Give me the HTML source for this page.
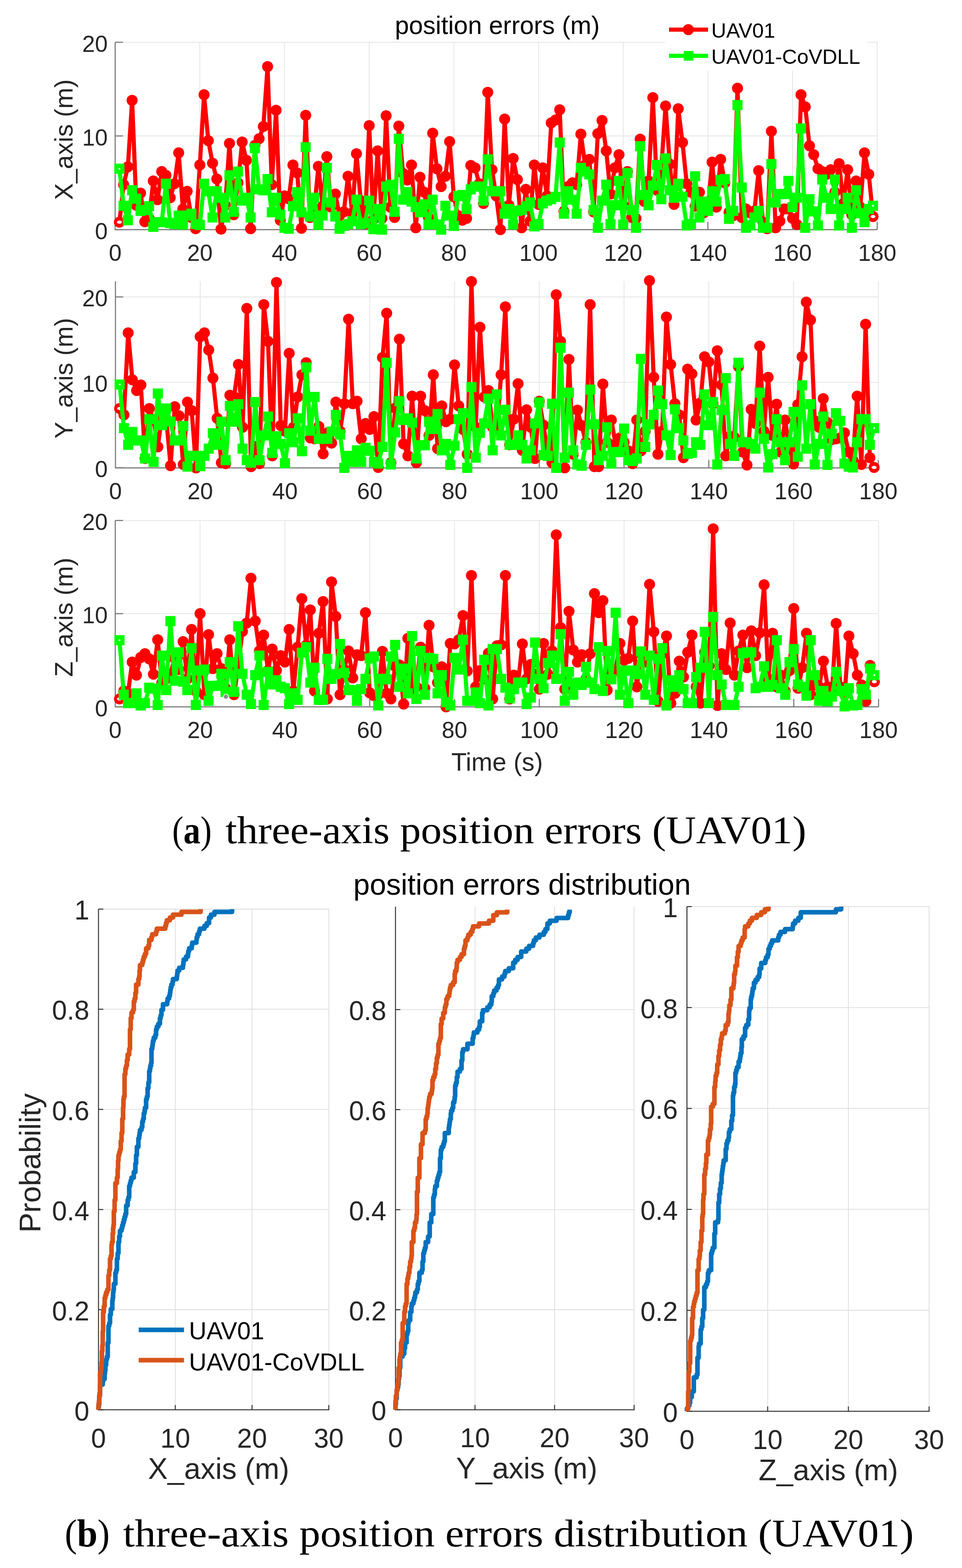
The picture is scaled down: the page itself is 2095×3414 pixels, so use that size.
<!DOCTYPE html><html><head><meta charset="utf-8"><title>position errors</title><style>html,body{margin:0;padding:0;background:#fff;}svg{display:block;}</style></head><body><svg width="2095" height="3414" viewBox="0 0 2095 3414">
<rect width="2095" height="3414" fill="#ffffff"/>
<line x1="435.2" y1="92.0" x2="435.2" y2="500.0" stroke="#e8e8e8" stroke-width="2"/>
<line x1="619.6" y1="92.0" x2="619.6" y2="500.0" stroke="#e8e8e8" stroke-width="2"/>
<line x1="804.0" y1="92.0" x2="804.0" y2="500.0" stroke="#e8e8e8" stroke-width="2"/>
<line x1="988.4" y1="92.0" x2="988.4" y2="500.0" stroke="#e8e8e8" stroke-width="2"/>
<line x1="1172.8" y1="92.0" x2="1172.8" y2="500.0" stroke="#e8e8e8" stroke-width="2"/>
<line x1="1357.2" y1="92.0" x2="1357.2" y2="500.0" stroke="#e8e8e8" stroke-width="2"/>
<line x1="1541.6" y1="92.0" x2="1541.6" y2="500.0" stroke="#e8e8e8" stroke-width="2"/>
<line x1="1726.0" y1="92.0" x2="1726.0" y2="500.0" stroke="#e8e8e8" stroke-width="2"/>
<line x1="1910.4" y1="92.0" x2="1910.4" y2="500.0" stroke="#e8e8e8" stroke-width="2"/>
<line x1="250.8" y1="296.0" x2="1910.4" y2="296.0" stroke="#e8e8e8" stroke-width="2"/>
<line x1="250.8" y1="92.0" x2="1910.4" y2="92.0" stroke="#e8e8e8" stroke-width="2"/>
<line x1="250.8" y1="92.0" x2="250.8" y2="501.0" stroke="#7a7a7a" stroke-width="2.4"/>
<line x1="249.8" y1="500.0" x2="1910.4" y2="500.0" stroke="#7a7a7a" stroke-width="2.4"/>
<line x1="250.8" y1="500.0" x2="267.8" y2="500.0" stroke="#7a7a7a" stroke-width="2.4"/>
<line x1="250.8" y1="296.0" x2="267.8" y2="296.0" stroke="#7a7a7a" stroke-width="2.4"/>
<line x1="250.8" y1="92.0" x2="267.8" y2="92.0" stroke="#7a7a7a" stroke-width="2.4"/>
<line x1="435.2" y1="500.0" x2="435.2" y2="483.0" stroke="#7a7a7a" stroke-width="2.4"/>
<line x1="619.6" y1="500.0" x2="619.6" y2="483.0" stroke="#7a7a7a" stroke-width="2.4"/>
<line x1="804.0" y1="500.0" x2="804.0" y2="483.0" stroke="#7a7a7a" stroke-width="2.4"/>
<line x1="988.4" y1="500.0" x2="988.4" y2="483.0" stroke="#7a7a7a" stroke-width="2.4"/>
<line x1="1172.8" y1="500.0" x2="1172.8" y2="483.0" stroke="#7a7a7a" stroke-width="2.4"/>
<line x1="1357.2" y1="500.0" x2="1357.2" y2="483.0" stroke="#7a7a7a" stroke-width="2.4"/>
<line x1="1541.6" y1="500.0" x2="1541.6" y2="483.0" stroke="#7a7a7a" stroke-width="2.4"/>
<line x1="1726.0" y1="500.0" x2="1726.0" y2="483.0" stroke="#7a7a7a" stroke-width="2.4"/>
<line x1="1910.4" y1="500.0" x2="1910.4" y2="483.0" stroke="#7a7a7a" stroke-width="2.4"/>
<text x="234.5" y="520.5" font-size="50" text-anchor="end" fill="#262626" font-family="'Liberation Sans', Arial, Helvetica, sans-serif" >0</text>
<text x="234.5" y="316.5" font-size="50" text-anchor="end" fill="#262626" font-family="'Liberation Sans', Arial, Helvetica, sans-serif" >10</text>
<text x="234.5" y="112.5" font-size="50" text-anchor="end" fill="#262626" font-family="'Liberation Sans', Arial, Helvetica, sans-serif" >20</text>
<text x="250.8" y="568.0" font-size="50" text-anchor="middle" fill="#262626" font-family="'Liberation Sans', Arial, Helvetica, sans-serif" >0</text>
<text x="435.2" y="568.0" font-size="50" text-anchor="middle" fill="#262626" font-family="'Liberation Sans', Arial, Helvetica, sans-serif" >20</text>
<text x="619.6" y="568.0" font-size="50" text-anchor="middle" fill="#262626" font-family="'Liberation Sans', Arial, Helvetica, sans-serif" >40</text>
<text x="804.0" y="568.0" font-size="50" text-anchor="middle" fill="#262626" font-family="'Liberation Sans', Arial, Helvetica, sans-serif" >60</text>
<text x="988.4" y="568.0" font-size="50" text-anchor="middle" fill="#262626" font-family="'Liberation Sans', Arial, Helvetica, sans-serif" >80</text>
<text x="1172.8" y="568.0" font-size="50" text-anchor="middle" fill="#262626" font-family="'Liberation Sans', Arial, Helvetica, sans-serif" >100</text>
<text x="1357.2" y="568.0" font-size="50" text-anchor="middle" fill="#262626" font-family="'Liberation Sans', Arial, Helvetica, sans-serif" >120</text>
<text x="1541.6" y="568.0" font-size="50" text-anchor="middle" fill="#262626" font-family="'Liberation Sans', Arial, Helvetica, sans-serif" >140</text>
<text x="1726.0" y="568.0" font-size="50" text-anchor="middle" fill="#262626" font-family="'Liberation Sans', Arial, Helvetica, sans-serif" >160</text>
<text x="1910.4" y="568.0" font-size="50" text-anchor="middle" fill="#262626" font-family="'Liberation Sans', Arial, Helvetica, sans-serif" >180</text>
<text transform="translate(158,304.0) rotate(-90)" x="0" y="0" font-size="55" text-anchor="middle" fill="#262626" font-family="'Liberation Sans', Arial, Helvetica, sans-serif">X_axis (m)</text>
<path d="M260.0,483.7 L269.2,402.1 L278.5,363.3 L287.7,218.5 L296.9,447.0 L306.1,420.4 L315.3,482.7 L324.6,475.5 L333.8,393.9 L343.0,434.7 L352.2,373.5 L361.4,381.7 L370.7,430.6 L379.9,400.0 L389.1,332.7 L398.3,455.1 L407.5,416.4 L416.8,473.5 L426.0,498.0 L435.2,359.2 L444.4,206.2 L453.6,306.2 L462.9,355.2 L472.1,389.8 L481.3,499.0 L490.5,447.0 L499.7,312.3 L509.0,467.4 L518.2,398.0 L527.4,309.3 L536.6,349.0 L545.8,498.0 L555.1,316.4 L564.3,302.1 L573.5,275.6 L582.7,145.0 L591.9,402.1 L601.2,239.9 L610.4,479.6 L619.6,426.6 L628.8,432.7 L638.0,359.2 L647.3,376.6 L656.5,496.9 L665.7,251.1 L674.9,473.5 L684.1,459.2 L693.4,362.3 L702.6,449.0 L711.8,340.9 L721.0,451.0 L730.2,422.5 L739.5,469.4 L748.7,461.2 L757.9,383.7 L767.1,463.3 L776.3,334.8 L785.6,436.8 L794.8,487.8 L804.0,273.6 L813.2,477.6 L822.4,328.6 L831.7,475.5 L840.9,252.1 L850.1,451.0 L859.3,473.5 L868.5,274.6 L877.8,377.6 L887.0,391.9 L896.2,359.2 L905.4,495.9 L914.6,385.8 L923.9,418.4 L933.1,473.5 L942.3,289.9 L951.5,367.4 L960.7,406.2 L970.0,383.7 L979.2,308.2 L988.4,428.6 L997.6,469.4 L1006.8,479.6 L1016.1,475.5 L1025.3,360.3 L1034.5,365.4 L1043.7,400.0 L1052.9,442.9 L1062.2,201.1 L1071.4,369.4 L1080.6,426.6 L1089.8,500.0 L1099.0,259.3 L1108.3,447.0 L1117.5,345.0 L1126.7,390.9 L1135.9,495.9 L1145.1,412.3 L1154.4,481.6 L1163.6,359.2 L1172.8,444.9 L1182.0,365.4 L1191.2,426.6 L1200.5,267.4 L1209.7,261.3 L1218.9,238.9 L1228.1,460.2 L1237.3,406.2 L1246.6,398.0 L1255.8,402.1 L1265.0,291.9 L1274.2,359.2 L1283.4,347.0 L1292.7,461.2 L1301.9,290.9 L1311.1,262.3 L1320.3,328.6 L1329.5,422.5 L1338.8,365.4 L1348.0,336.8 L1357.2,447.0 L1366.4,373.5 L1375.6,473.5 L1384.9,475.5 L1394.1,303.1 L1403.3,438.8 L1412.5,393.9 L1421.7,212.4 L1431.0,414.3 L1440.2,365.4 L1449.4,230.7 L1458.6,357.2 L1467.8,444.9 L1477.1,236.8 L1486.3,310.3 L1495.5,400.0 L1504.7,418.4 L1513.9,449.0 L1523.2,418.4 L1532.4,463.3 L1541.6,453.1 L1550.8,353.1 L1560.0,451.0 L1569.3,347.0 L1578.5,398.0 L1587.7,462.3 L1596.9,469.4 L1606.1,192.0 L1615.4,473.5 L1624.6,455.1 L1633.8,463.3 L1643.0,459.2 L1652.2,371.5 L1661.5,483.7 L1670.7,498.0 L1679.9,285.8 L1689.1,495.9 L1698.3,481.6 L1707.6,455.1 L1716.8,455.1 L1726.0,475.5 L1735.2,488.8 L1744.4,206.2 L1753.7,232.8 L1762.9,317.4 L1772.1,336.8 L1781.3,367.4 L1790.5,373.5 L1799.8,379.6 L1809.0,369.4 L1818.2,418.4 L1827.4,356.2 L1836.6,442.9 L1845.9,369.4 L1855.1,467.4 L1864.3,393.9 L1873.5,451.0 L1882.7,332.7 L1892.0,379.6 L1901.2,471.4" fill="none" stroke="#ff0000" stroke-width="9" stroke-linejoin="round" stroke-linecap="round"/>
<g fill="#ff0000"><circle cx="260.0" cy="483.7" r="12"/><circle cx="269.2" cy="402.1" r="12"/><circle cx="278.5" cy="363.3" r="12"/><circle cx="287.7" cy="218.5" r="12"/><circle cx="296.9" cy="447.0" r="12"/><circle cx="306.1" cy="420.4" r="12"/><circle cx="315.3" cy="482.7" r="12"/><circle cx="324.6" cy="475.5" r="12"/><circle cx="333.8" cy="393.9" r="12"/><circle cx="343.0" cy="434.7" r="12"/><circle cx="352.2" cy="373.5" r="12"/><circle cx="361.4" cy="381.7" r="12"/><circle cx="370.7" cy="430.6" r="12"/><circle cx="379.9" cy="400.0" r="12"/><circle cx="389.1" cy="332.7" r="12"/><circle cx="398.3" cy="455.1" r="12"/><circle cx="407.5" cy="416.4" r="12"/><circle cx="416.8" cy="473.5" r="12"/><circle cx="426.0" cy="498.0" r="12"/><circle cx="435.2" cy="359.2" r="12"/><circle cx="444.4" cy="206.2" r="12"/><circle cx="453.6" cy="306.2" r="12"/><circle cx="462.9" cy="355.2" r="12"/><circle cx="472.1" cy="389.8" r="12"/><circle cx="481.3" cy="499.0" r="12"/><circle cx="490.5" cy="447.0" r="12"/><circle cx="499.7" cy="312.3" r="12"/><circle cx="509.0" cy="467.4" r="12"/><circle cx="518.2" cy="398.0" r="12"/><circle cx="527.4" cy="309.3" r="12"/><circle cx="536.6" cy="349.0" r="12"/><circle cx="545.8" cy="498.0" r="12"/><circle cx="555.1" cy="316.4" r="12"/><circle cx="564.3" cy="302.1" r="12"/><circle cx="573.5" cy="275.6" r="12"/><circle cx="582.7" cy="145.0" r="12"/><circle cx="591.9" cy="402.1" r="12"/><circle cx="601.2" cy="239.9" r="12"/><circle cx="610.4" cy="479.6" r="12"/><circle cx="619.6" cy="426.6" r="12"/><circle cx="628.8" cy="432.7" r="12"/><circle cx="638.0" cy="359.2" r="12"/><circle cx="647.3" cy="376.6" r="12"/><circle cx="656.5" cy="496.9" r="12"/><circle cx="665.7" cy="251.1" r="12"/><circle cx="674.9" cy="473.5" r="12"/><circle cx="684.1" cy="459.2" r="12"/><circle cx="693.4" cy="362.3" r="12"/><circle cx="702.6" cy="449.0" r="12"/><circle cx="711.8" cy="340.9" r="12"/><circle cx="721.0" cy="451.0" r="12"/><circle cx="730.2" cy="422.5" r="12"/><circle cx="739.5" cy="469.4" r="12"/><circle cx="748.7" cy="461.2" r="12"/><circle cx="757.9" cy="383.7" r="12"/><circle cx="767.1" cy="463.3" r="12"/><circle cx="776.3" cy="334.8" r="12"/><circle cx="785.6" cy="436.8" r="12"/><circle cx="794.8" cy="487.8" r="12"/><circle cx="804.0" cy="273.6" r="12"/><circle cx="813.2" cy="477.6" r="12"/><circle cx="822.4" cy="328.6" r="12"/><circle cx="831.7" cy="475.5" r="12"/><circle cx="840.9" cy="252.1" r="12"/><circle cx="850.1" cy="451.0" r="12"/><circle cx="859.3" cy="473.5" r="12"/><circle cx="868.5" cy="274.6" r="12"/><circle cx="877.8" cy="377.6" r="12"/><circle cx="887.0" cy="391.9" r="12"/><circle cx="896.2" cy="359.2" r="12"/><circle cx="905.4" cy="495.9" r="12"/><circle cx="914.6" cy="385.8" r="12"/><circle cx="923.9" cy="418.4" r="12"/><circle cx="933.1" cy="473.5" r="12"/><circle cx="942.3" cy="289.9" r="12"/><circle cx="951.5" cy="367.4" r="12"/><circle cx="960.7" cy="406.2" r="12"/><circle cx="970.0" cy="383.7" r="12"/><circle cx="979.2" cy="308.2" r="12"/><circle cx="988.4" cy="428.6" r="12"/><circle cx="997.6" cy="469.4" r="12"/><circle cx="1006.8" cy="479.6" r="12"/><circle cx="1016.1" cy="475.5" r="12"/><circle cx="1025.3" cy="360.3" r="12"/><circle cx="1034.5" cy="365.4" r="12"/><circle cx="1043.7" cy="400.0" r="12"/><circle cx="1052.9" cy="442.9" r="12"/><circle cx="1062.2" cy="201.1" r="12"/><circle cx="1071.4" cy="369.4" r="12"/><circle cx="1080.6" cy="426.6" r="12"/><circle cx="1089.8" cy="500.0" r="12"/><circle cx="1099.0" cy="259.3" r="12"/><circle cx="1108.3" cy="447.0" r="12"/><circle cx="1117.5" cy="345.0" r="12"/><circle cx="1126.7" cy="390.9" r="12"/><circle cx="1135.9" cy="495.9" r="12"/><circle cx="1145.1" cy="412.3" r="12"/><circle cx="1154.4" cy="481.6" r="12"/><circle cx="1163.6" cy="359.2" r="12"/><circle cx="1172.8" cy="444.9" r="12"/><circle cx="1182.0" cy="365.4" r="12"/><circle cx="1191.2" cy="426.6" r="12"/><circle cx="1200.5" cy="267.4" r="12"/><circle cx="1209.7" cy="261.3" r="12"/><circle cx="1218.9" cy="238.9" r="12"/><circle cx="1228.1" cy="460.2" r="12"/><circle cx="1237.3" cy="406.2" r="12"/><circle cx="1246.6" cy="398.0" r="12"/><circle cx="1255.8" cy="402.1" r="12"/><circle cx="1265.0" cy="291.9" r="12"/><circle cx="1274.2" cy="359.2" r="12"/><circle cx="1283.4" cy="347.0" r="12"/><circle cx="1292.7" cy="461.2" r="12"/><circle cx="1301.9" cy="290.9" r="12"/><circle cx="1311.1" cy="262.3" r="12"/><circle cx="1320.3" cy="328.6" r="12"/><circle cx="1329.5" cy="422.5" r="12"/><circle cx="1338.8" cy="365.4" r="12"/><circle cx="1348.0" cy="336.8" r="12"/><circle cx="1357.2" cy="447.0" r="12"/><circle cx="1366.4" cy="373.5" r="12"/><circle cx="1375.6" cy="473.5" r="12"/><circle cx="1384.9" cy="475.5" r="12"/><circle cx="1394.1" cy="303.1" r="12"/><circle cx="1403.3" cy="438.8" r="12"/><circle cx="1412.5" cy="393.9" r="12"/><circle cx="1421.7" cy="212.4" r="12"/><circle cx="1431.0" cy="414.3" r="12"/><circle cx="1440.2" cy="365.4" r="12"/><circle cx="1449.4" cy="230.7" r="12"/><circle cx="1458.6" cy="357.2" r="12"/><circle cx="1467.8" cy="444.9" r="12"/><circle cx="1477.1" cy="236.8" r="12"/><circle cx="1486.3" cy="310.3" r="12"/><circle cx="1495.5" cy="400.0" r="12"/><circle cx="1504.7" cy="418.4" r="12"/><circle cx="1513.9" cy="449.0" r="12"/><circle cx="1523.2" cy="418.4" r="12"/><circle cx="1532.4" cy="463.3" r="12"/><circle cx="1541.6" cy="453.1" r="12"/><circle cx="1550.8" cy="353.1" r="12"/><circle cx="1560.0" cy="451.0" r="12"/><circle cx="1569.3" cy="347.0" r="12"/><circle cx="1578.5" cy="398.0" r="12"/><circle cx="1587.7" cy="462.3" r="12"/><circle cx="1596.9" cy="469.4" r="12"/><circle cx="1606.1" cy="192.0" r="12"/><circle cx="1615.4" cy="473.5" r="12"/><circle cx="1624.6" cy="455.1" r="12"/><circle cx="1633.8" cy="463.3" r="12"/><circle cx="1643.0" cy="459.2" r="12"/><circle cx="1652.2" cy="371.5" r="12"/><circle cx="1661.5" cy="483.7" r="12"/><circle cx="1670.7" cy="498.0" r="12"/><circle cx="1679.9" cy="285.8" r="12"/><circle cx="1689.1" cy="495.9" r="12"/><circle cx="1698.3" cy="481.6" r="12"/><circle cx="1707.6" cy="455.1" r="12"/><circle cx="1716.8" cy="455.1" r="12"/><circle cx="1726.0" cy="475.5" r="12"/><circle cx="1735.2" cy="488.8" r="12"/><circle cx="1744.4" cy="206.2" r="12"/><circle cx="1753.7" cy="232.8" r="12"/><circle cx="1762.9" cy="317.4" r="12"/><circle cx="1772.1" cy="336.8" r="12"/><circle cx="1781.3" cy="367.4" r="12"/><circle cx="1790.5" cy="373.5" r="12"/><circle cx="1799.8" cy="379.6" r="12"/><circle cx="1809.0" cy="369.4" r="12"/><circle cx="1818.2" cy="418.4" r="12"/><circle cx="1827.4" cy="356.2" r="12"/><circle cx="1836.6" cy="442.9" r="12"/><circle cx="1845.9" cy="369.4" r="12"/><circle cx="1855.1" cy="467.4" r="12"/><circle cx="1864.3" cy="393.9" r="12"/><circle cx="1873.5" cy="451.0" r="12"/><circle cx="1882.7" cy="332.7" r="12"/><circle cx="1892.0" cy="379.6" r="12"/><circle cx="1901.2" cy="471.4" r="12"/></g>
<ellipse cx="260.0" cy="483.7" rx="5.5" ry="3.5" fill="#ffffff"/>
<ellipse cx="1901.2" cy="471.4" rx="5.5" ry="3.5" fill="#ffffff"/>
<path d="M260.0,367.4 L269.2,448.0 L278.5,479.6 L287.7,414.3 L296.9,432.7 L306.1,459.2 L315.3,457.2 L324.6,449.0 L333.8,493.9 L343.0,483.7 L352.2,483.7 L361.4,400.0 L370.7,485.7 L379.9,487.8 L389.1,469.4 L398.3,488.8 L407.5,469.4 L416.8,465.3 L426.0,487.8 L435.2,489.8 L444.4,400.0 L453.6,416.4 L462.9,473.5 L472.1,416.4 L481.3,430.6 L490.5,473.5 L499.7,381.7 L509.0,461.2 L518.2,373.5 L527.4,436.8 L536.6,430.6 L545.8,473.5 L555.1,322.5 L564.3,412.3 L573.5,414.3 L582.7,389.8 L591.9,462.3 L601.2,430.6 L610.4,467.4 L619.6,495.9 L628.8,498.0 L638.0,449.0 L647.3,418.4 L656.5,462.3 L665.7,320.5 L674.9,471.4 L684.1,430.6 L693.4,489.8 L702.6,469.4 L711.8,365.4 L721.0,440.8 L730.2,471.4 L739.5,498.0 L748.7,491.8 L757.9,487.8 L767.1,481.6 L776.3,434.7 L785.6,487.8 L794.8,485.7 L804.0,436.8 L813.2,499.0 L822.4,455.1 L831.7,500.0 L840.9,406.2 L850.1,402.1 L859.3,461.2 L868.5,302.1 L877.8,434.7 L887.0,418.4 L896.2,438.8 L905.4,451.0 L914.6,462.3 L923.9,444.9 L933.1,488.8 L942.3,434.7 L951.5,488.8 L960.7,500.0 L970.0,448.0 L979.2,469.4 L988.4,491.8 L997.6,426.6 L1006.8,424.5 L1016.1,455.1 L1025.3,412.3 L1034.5,406.2 L1043.7,406.2 L1052.9,436.8 L1062.2,347.0 L1071.4,416.4 L1080.6,416.4 L1089.8,416.4 L1099.0,465.3 L1108.3,455.1 L1117.5,488.8 L1126.7,459.2 L1135.9,457.2 L1145.1,449.0 L1154.4,440.8 L1163.6,492.9 L1172.8,487.8 L1182.0,442.9 L1191.2,436.8 L1200.5,433.7 L1209.7,428.6 L1218.9,310.3 L1228.1,465.3 L1237.3,416.4 L1246.6,434.7 L1255.8,465.3 L1265.0,365.4 L1274.2,373.5 L1283.4,379.6 L1292.7,457.2 L1301.9,495.9 L1311.1,436.8 L1320.3,402.1 L1329.5,487.8 L1338.8,447.0 L1348.0,393.9 L1357.2,488.8 L1366.4,376.6 L1375.6,457.2 L1384.9,495.9 L1394.1,318.4 L1403.3,424.5 L1412.5,447.0 L1421.7,404.1 L1431.0,359.2 L1440.2,433.7 L1449.4,345.0 L1458.6,414.3 L1467.8,430.6 L1477.1,400.0 L1486.3,428.6 L1495.5,490.8 L1504.7,487.8 L1513.9,383.7 L1523.2,473.5 L1532.4,438.8 L1541.6,459.2 L1550.8,416.4 L1560.0,438.8 L1569.3,391.9 L1578.5,389.8 L1587.7,476.5 L1596.9,459.2 L1606.1,228.7 L1615.4,408.2 L1624.6,495.9 L1633.8,490.8 L1643.0,473.5 L1652.2,459.2 L1661.5,495.9 L1670.7,495.9 L1679.9,357.2 L1689.1,440.8 L1698.3,422.5 L1707.6,422.5 L1716.8,393.9 L1726.0,451.0 L1735.2,430.6 L1744.4,279.7 L1753.7,495.9 L1762.9,433.7 L1772.1,460.2 L1781.3,490.8 L1790.5,390.9 L1799.8,430.6 L1809.0,455.1 L1818.2,390.9 L1827.4,490.8 L1836.6,455.1 L1845.9,430.6 L1855.1,495.9 L1864.3,414.3 L1873.5,464.3 L1882.7,483.7 L1892.0,455.1 L1901.2,448.0" fill="none" stroke="#00ff00" stroke-width="9" stroke-linejoin="round" stroke-linecap="round"/>
<g fill="#00ff00"><rect x="249.0" y="356.4" width="22" height="22"/><rect x="258.2" y="437.0" width="22" height="22"/><rect x="267.5" y="468.6" width="22" height="22"/><rect x="276.7" y="403.3" width="22" height="22"/><rect x="285.9" y="421.7" width="22" height="22"/><rect x="295.1" y="448.2" width="22" height="22"/><rect x="304.3" y="446.2" width="22" height="22"/><rect x="313.6" y="438.0" width="22" height="22"/><rect x="322.8" y="482.9" width="22" height="22"/><rect x="332.0" y="472.7" width="22" height="22"/><rect x="341.2" y="472.7" width="22" height="22"/><rect x="350.4" y="389.0" width="22" height="22"/><rect x="359.7" y="474.7" width="22" height="22"/><rect x="368.9" y="476.8" width="22" height="22"/><rect x="378.1" y="458.4" width="22" height="22"/><rect x="387.3" y="477.8" width="22" height="22"/><rect x="396.5" y="458.4" width="22" height="22"/><rect x="405.8" y="454.3" width="22" height="22"/><rect x="415.0" y="476.8" width="22" height="22"/><rect x="424.2" y="478.8" width="22" height="22"/><rect x="433.4" y="389.0" width="22" height="22"/><rect x="442.6" y="405.4" width="22" height="22"/><rect x="451.9" y="462.5" width="22" height="22"/><rect x="461.1" y="405.4" width="22" height="22"/><rect x="470.3" y="419.6" width="22" height="22"/><rect x="479.5" y="462.5" width="22" height="22"/><rect x="488.7" y="370.7" width="22" height="22"/><rect x="498.0" y="450.2" width="22" height="22"/><rect x="507.2" y="362.5" width="22" height="22"/><rect x="516.4" y="425.8" width="22" height="22"/><rect x="525.6" y="419.6" width="22" height="22"/><rect x="534.8" y="462.5" width="22" height="22"/><rect x="544.1" y="311.5" width="22" height="22"/><rect x="553.3" y="401.3" width="22" height="22"/><rect x="562.5" y="403.3" width="22" height="22"/><rect x="571.7" y="378.8" width="22" height="22"/><rect x="580.9" y="451.3" width="22" height="22"/><rect x="590.2" y="419.6" width="22" height="22"/><rect x="599.4" y="456.4" width="22" height="22"/><rect x="608.6" y="484.9" width="22" height="22"/><rect x="617.8" y="487.0" width="22" height="22"/><rect x="627.0" y="438.0" width="22" height="22"/><rect x="636.3" y="407.4" width="22" height="22"/><rect x="645.5" y="451.3" width="22" height="22"/><rect x="654.7" y="309.5" width="22" height="22"/><rect x="663.9" y="460.4" width="22" height="22"/><rect x="673.1" y="419.6" width="22" height="22"/><rect x="682.4" y="478.8" width="22" height="22"/><rect x="691.6" y="458.4" width="22" height="22"/><rect x="700.8" y="354.4" width="22" height="22"/><rect x="710.0" y="429.8" width="22" height="22"/><rect x="719.2" y="460.4" width="22" height="22"/><rect x="728.5" y="487.0" width="22" height="22"/><rect x="737.7" y="480.8" width="22" height="22"/><rect x="746.9" y="476.8" width="22" height="22"/><rect x="756.1" y="470.6" width="22" height="22"/><rect x="765.3" y="423.7" width="22" height="22"/><rect x="774.6" y="476.8" width="22" height="22"/><rect x="783.8" y="474.7" width="22" height="22"/><rect x="793.0" y="425.8" width="22" height="22"/><rect x="802.2" y="488.0" width="22" height="22"/><rect x="811.4" y="444.1" width="22" height="22"/><rect x="820.7" y="489.0" width="22" height="22"/><rect x="829.9" y="395.2" width="22" height="22"/><rect x="839.1" y="391.1" width="22" height="22"/><rect x="848.3" y="450.2" width="22" height="22"/><rect x="857.5" y="291.1" width="22" height="22"/><rect x="866.8" y="423.7" width="22" height="22"/><rect x="876.0" y="407.4" width="22" height="22"/><rect x="885.2" y="427.8" width="22" height="22"/><rect x="894.4" y="440.0" width="22" height="22"/><rect x="903.6" y="451.3" width="22" height="22"/><rect x="912.9" y="433.9" width="22" height="22"/><rect x="922.1" y="477.8" width="22" height="22"/><rect x="931.3" y="423.7" width="22" height="22"/><rect x="940.5" y="477.8" width="22" height="22"/><rect x="949.7" y="489.0" width="22" height="22"/><rect x="959.0" y="437.0" width="22" height="22"/><rect x="968.2" y="458.4" width="22" height="22"/><rect x="977.4" y="480.8" width="22" height="22"/><rect x="986.6" y="415.6" width="22" height="22"/><rect x="995.8" y="413.5" width="22" height="22"/><rect x="1005.1" y="444.1" width="22" height="22"/><rect x="1014.3" y="401.3" width="22" height="22"/><rect x="1023.5" y="395.2" width="22" height="22"/><rect x="1032.7" y="395.2" width="22" height="22"/><rect x="1041.9" y="425.8" width="22" height="22"/><rect x="1051.2" y="336.0" width="22" height="22"/><rect x="1060.4" y="405.4" width="22" height="22"/><rect x="1069.6" y="405.4" width="22" height="22"/><rect x="1078.8" y="405.4" width="22" height="22"/><rect x="1088.0" y="454.3" width="22" height="22"/><rect x="1097.3" y="444.1" width="22" height="22"/><rect x="1106.5" y="477.8" width="22" height="22"/><rect x="1115.7" y="448.2" width="22" height="22"/><rect x="1124.9" y="446.2" width="22" height="22"/><rect x="1134.1" y="438.0" width="22" height="22"/><rect x="1143.4" y="429.8" width="22" height="22"/><rect x="1152.6" y="481.9" width="22" height="22"/><rect x="1161.8" y="476.8" width="22" height="22"/><rect x="1171.0" y="431.9" width="22" height="22"/><rect x="1180.2" y="425.8" width="22" height="22"/><rect x="1189.5" y="422.7" width="22" height="22"/><rect x="1198.7" y="417.6" width="22" height="22"/><rect x="1207.9" y="299.3" width="22" height="22"/><rect x="1217.1" y="454.3" width="22" height="22"/><rect x="1226.3" y="405.4" width="22" height="22"/><rect x="1235.6" y="423.7" width="22" height="22"/><rect x="1244.8" y="454.3" width="22" height="22"/><rect x="1254.0" y="354.4" width="22" height="22"/><rect x="1263.2" y="362.5" width="22" height="22"/><rect x="1272.4" y="368.6" width="22" height="22"/><rect x="1281.7" y="446.2" width="22" height="22"/><rect x="1290.9" y="484.9" width="22" height="22"/><rect x="1300.1" y="425.8" width="22" height="22"/><rect x="1309.3" y="391.1" width="22" height="22"/><rect x="1318.5" y="476.8" width="22" height="22"/><rect x="1327.8" y="436.0" width="22" height="22"/><rect x="1337.0" y="382.9" width="22" height="22"/><rect x="1346.2" y="477.8" width="22" height="22"/><rect x="1355.4" y="365.6" width="22" height="22"/><rect x="1364.6" y="446.2" width="22" height="22"/><rect x="1373.9" y="484.9" width="22" height="22"/><rect x="1383.1" y="307.4" width="22" height="22"/><rect x="1392.3" y="413.5" width="22" height="22"/><rect x="1401.5" y="436.0" width="22" height="22"/><rect x="1410.7" y="393.1" width="22" height="22"/><rect x="1420.0" y="348.2" width="22" height="22"/><rect x="1429.2" y="422.7" width="22" height="22"/><rect x="1438.4" y="334.0" width="22" height="22"/><rect x="1447.6" y="403.3" width="22" height="22"/><rect x="1456.8" y="419.6" width="22" height="22"/><rect x="1466.1" y="389.0" width="22" height="22"/><rect x="1475.3" y="417.6" width="22" height="22"/><rect x="1484.5" y="479.8" width="22" height="22"/><rect x="1493.7" y="476.8" width="22" height="22"/><rect x="1502.9" y="372.7" width="22" height="22"/><rect x="1512.2" y="462.5" width="22" height="22"/><rect x="1521.4" y="427.8" width="22" height="22"/><rect x="1530.6" y="448.2" width="22" height="22"/><rect x="1539.8" y="405.4" width="22" height="22"/><rect x="1549.0" y="427.8" width="22" height="22"/><rect x="1558.3" y="380.9" width="22" height="22"/><rect x="1567.5" y="378.8" width="22" height="22"/><rect x="1576.7" y="465.5" width="22" height="22"/><rect x="1585.9" y="448.2" width="22" height="22"/><rect x="1595.1" y="217.7" width="22" height="22"/><rect x="1604.4" y="397.2" width="22" height="22"/><rect x="1613.6" y="484.9" width="22" height="22"/><rect x="1622.8" y="479.8" width="22" height="22"/><rect x="1632.0" y="462.5" width="22" height="22"/><rect x="1641.2" y="448.2" width="22" height="22"/><rect x="1650.5" y="484.9" width="22" height="22"/><rect x="1659.7" y="484.9" width="22" height="22"/><rect x="1668.9" y="346.2" width="22" height="22"/><rect x="1678.1" y="429.8" width="22" height="22"/><rect x="1687.3" y="411.5" width="22" height="22"/><rect x="1696.6" y="411.5" width="22" height="22"/><rect x="1705.8" y="382.9" width="22" height="22"/><rect x="1715.0" y="440.0" width="22" height="22"/><rect x="1724.2" y="419.6" width="22" height="22"/><rect x="1733.4" y="268.7" width="22" height="22"/><rect x="1742.7" y="484.9" width="22" height="22"/><rect x="1751.9" y="422.7" width="22" height="22"/><rect x="1761.1" y="449.2" width="22" height="22"/><rect x="1770.3" y="479.8" width="22" height="22"/><rect x="1779.5" y="379.9" width="22" height="22"/><rect x="1788.8" y="419.6" width="22" height="22"/><rect x="1798.0" y="444.1" width="22" height="22"/><rect x="1807.2" y="379.9" width="22" height="22"/><rect x="1816.4" y="479.8" width="22" height="22"/><rect x="1825.6" y="444.1" width="22" height="22"/><rect x="1834.9" y="419.6" width="22" height="22"/><rect x="1844.1" y="484.9" width="22" height="22"/><rect x="1853.3" y="403.3" width="22" height="22"/><rect x="1862.5" y="453.3" width="22" height="22"/><rect x="1871.7" y="472.7" width="22" height="22"/><rect x="1881.0" y="444.1" width="22" height="22"/><rect x="1890.2" y="437.0" width="22" height="22"/></g>
<circle cx="260.0" cy="367.4" r="2" fill="#ffffff"/>
<circle cx="1901.2" cy="448.0" r="2" fill="#ffffff"/>
<line x1="436.0" y1="612.2" x2="436.0" y2="1018.7" stroke="#e8e8e8" stroke-width="2"/>
<line x1="620.6" y1="612.2" x2="620.6" y2="1018.7" stroke="#e8e8e8" stroke-width="2"/>
<line x1="805.2" y1="612.2" x2="805.2" y2="1018.7" stroke="#e8e8e8" stroke-width="2"/>
<line x1="989.8" y1="612.2" x2="989.8" y2="1018.7" stroke="#e8e8e8" stroke-width="2"/>
<line x1="1174.4" y1="612.2" x2="1174.4" y2="1018.7" stroke="#e8e8e8" stroke-width="2"/>
<line x1="1359.0" y1="612.2" x2="1359.0" y2="1018.7" stroke="#e8e8e8" stroke-width="2"/>
<line x1="1543.6" y1="612.2" x2="1543.6" y2="1018.7" stroke="#e8e8e8" stroke-width="2"/>
<line x1="1728.2" y1="612.2" x2="1728.2" y2="1018.7" stroke="#e8e8e8" stroke-width="2"/>
<line x1="1912.8" y1="612.2" x2="1912.8" y2="1018.7" stroke="#e8e8e8" stroke-width="2"/>
<line x1="251.4" y1="832.6" x2="1912.8" y2="832.6" stroke="#e8e8e8" stroke-width="2"/>
<line x1="251.4" y1="646.5" x2="1912.8" y2="646.5" stroke="#e8e8e8" stroke-width="2"/>
<line x1="251.4" y1="612.2" x2="251.4" y2="1019.7" stroke="#7a7a7a" stroke-width="2.4"/>
<line x1="250.4" y1="1018.7" x2="1912.8" y2="1018.7" stroke="#7a7a7a" stroke-width="2.4"/>
<line x1="251.4" y1="1018.7" x2="268.4" y2="1018.7" stroke="#7a7a7a" stroke-width="2.4"/>
<line x1="251.4" y1="832.6" x2="268.4" y2="832.6" stroke="#7a7a7a" stroke-width="2.4"/>
<line x1="251.4" y1="646.5" x2="268.4" y2="646.5" stroke="#7a7a7a" stroke-width="2.4"/>
<line x1="436.0" y1="1018.7" x2="436.0" y2="1001.7" stroke="#7a7a7a" stroke-width="2.4"/>
<line x1="620.6" y1="1018.7" x2="620.6" y2="1001.7" stroke="#7a7a7a" stroke-width="2.4"/>
<line x1="805.2" y1="1018.7" x2="805.2" y2="1001.7" stroke="#7a7a7a" stroke-width="2.4"/>
<line x1="989.8" y1="1018.7" x2="989.8" y2="1001.7" stroke="#7a7a7a" stroke-width="2.4"/>
<line x1="1174.4" y1="1018.7" x2="1174.4" y2="1001.7" stroke="#7a7a7a" stroke-width="2.4"/>
<line x1="1359.0" y1="1018.7" x2="1359.0" y2="1001.7" stroke="#7a7a7a" stroke-width="2.4"/>
<line x1="1543.6" y1="1018.7" x2="1543.6" y2="1001.7" stroke="#7a7a7a" stroke-width="2.4"/>
<line x1="1728.2" y1="1018.7" x2="1728.2" y2="1001.7" stroke="#7a7a7a" stroke-width="2.4"/>
<line x1="1912.8" y1="1018.7" x2="1912.8" y2="1001.7" stroke="#7a7a7a" stroke-width="2.4"/>
<text x="234.5" y="1039.2" font-size="50" text-anchor="end" fill="#262626" font-family="'Liberation Sans', Arial, Helvetica, sans-serif" >0</text>
<text x="234.5" y="853.1" font-size="50" text-anchor="end" fill="#262626" font-family="'Liberation Sans', Arial, Helvetica, sans-serif" >10</text>
<text x="234.5" y="667.0" font-size="50" text-anchor="end" fill="#262626" font-family="'Liberation Sans', Arial, Helvetica, sans-serif" >20</text>
<text x="251.4" y="1086.7" font-size="50" text-anchor="middle" fill="#262626" font-family="'Liberation Sans', Arial, Helvetica, sans-serif" >0</text>
<text x="436.0" y="1086.7" font-size="50" text-anchor="middle" fill="#262626" font-family="'Liberation Sans', Arial, Helvetica, sans-serif" >20</text>
<text x="620.6" y="1086.7" font-size="50" text-anchor="middle" fill="#262626" font-family="'Liberation Sans', Arial, Helvetica, sans-serif" >40</text>
<text x="805.2" y="1086.7" font-size="50" text-anchor="middle" fill="#262626" font-family="'Liberation Sans', Arial, Helvetica, sans-serif" >60</text>
<text x="989.8" y="1086.7" font-size="50" text-anchor="middle" fill="#262626" font-family="'Liberation Sans', Arial, Helvetica, sans-serif" >80</text>
<text x="1174.4" y="1086.7" font-size="50" text-anchor="middle" fill="#262626" font-family="'Liberation Sans', Arial, Helvetica, sans-serif" >100</text>
<text x="1359.0" y="1086.7" font-size="50" text-anchor="middle" fill="#262626" font-family="'Liberation Sans', Arial, Helvetica, sans-serif" >120</text>
<text x="1543.6" y="1086.7" font-size="50" text-anchor="middle" fill="#262626" font-family="'Liberation Sans', Arial, Helvetica, sans-serif" >140</text>
<text x="1728.2" y="1086.7" font-size="50" text-anchor="middle" fill="#262626" font-family="'Liberation Sans', Arial, Helvetica, sans-serif" >160</text>
<text x="1912.8" y="1086.7" font-size="50" text-anchor="middle" fill="#262626" font-family="'Liberation Sans', Arial, Helvetica, sans-serif" >180</text>
<text transform="translate(158,823.5) rotate(-90)" x="0" y="0" font-size="55" text-anchor="middle" fill="#262626" font-family="'Liberation Sans', Arial, Helvetica, sans-serif">Y_axis (m)</text>
<path d="M260.6,889.4 L269.9,903.3 L279.1,724.7 L288.3,827.0 L297.6,850.3 L306.8,838.2 L316.0,998.2 L325.2,889.4 L334.5,914.5 L343.7,973.1 L352.9,903.3 L362.2,912.6 L371.4,1014.0 L380.6,885.6 L389.9,905.2 L399.1,1011.3 L408.3,875.4 L417.5,894.0 L426.8,1018.7 L436.0,733.0 L445.2,724.7 L454.5,761.9 L463.7,823.3 L472.9,910.8 L482.1,1007.5 L491.4,1009.4 L500.6,860.5 L509.8,864.2 L519.1,793.5 L528.3,930.3 L537.5,671.6 L546.8,1015.9 L556.0,972.2 L565.2,1009.4 L574.5,663.2 L583.7,743.3 L592.9,992.6 L602.1,614.9 L611.4,926.6 L620.6,938.7 L629.8,769.3 L639.1,930.3 L648.3,864.2 L657.5,815.9 L666.8,789.8 L676.0,953.6 L685.2,955.4 L694.4,928.4 L703.7,988.0 L712.9,942.4 L722.1,964.7 L731.4,875.4 L740.6,938.7 L749.8,879.1 L759.1,694.9 L768.3,879.1 L777.5,873.5 L786.7,955.4 L796.0,921.9 L805.2,935.0 L814.4,907.0 L823.7,1017.8 L832.9,778.6 L842.1,681.9 L851.4,1007.5 L860.6,888.4 L869.8,738.6 L879.0,966.6 L888.3,992.6 L897.5,862.4 L906.7,1007.5 L916.0,862.4 L925.2,894.0 L934.4,948.0 L943.6,815.9 L952.9,976.8 L962.1,883.8 L971.3,918.2 L980.6,912.6 L989.8,794.4 L999.0,883.8 L1008.3,935.0 L1017.5,988.9 L1026.7,613.0 L1036.0,930.3 L1045.2,712.6 L1054.4,864.2 L1063.6,850.3 L1072.9,930.3 L1082.1,935.0 L1091.3,815.9 L1100.6,667.9 L1109.8,968.5 L1119.0,912.6 L1128.2,835.4 L1137.5,980.5 L1146.7,892.2 L1155.9,930.3 L1165.2,998.2 L1174.4,873.5 L1183.6,925.7 L1192.9,990.8 L1202.1,1007.5 L1211.3,641.8 L1220.6,743.3 L1229.8,1018.7 L1239.0,782.4 L1248.2,988.9 L1257.5,893.1 L1266.7,926.6 L1275.9,962.9 L1285.2,663.2 L1294.4,1015.9 L1303.6,1015.9 L1312.9,836.3 L1322.1,962.9 L1331.3,914.5 L1340.5,966.6 L1349.8,953.6 L1359.0,962.9 L1368.2,981.5 L1377.5,1009.4 L1386.7,914.5 L1395.9,981.5 L1405.2,938.7 L1414.4,611.1 L1423.6,821.4 L1432.8,988.9 L1442.1,938.7 L1451.3,690.2 L1460.5,793.5 L1469.8,879.1 L1479.0,903.3 L1488.2,996.4 L1497.5,803.8 L1506.7,814.0 L1515.9,914.5 L1525.1,877.3 L1534.4,776.8 L1543.6,787.9 L1552.8,879.1 L1562.1,763.7 L1571.3,838.2 L1580.5,992.6 L1589.8,949.8 L1599.0,951.7 L1608.2,798.2 L1617.4,984.3 L1626.7,1012.6 L1635.9,891.2 L1645.1,921.9 L1654.4,753.5 L1663.6,938.7 L1672.8,821.4 L1682.1,948.0 L1691.3,880.1 L1700.5,984.3 L1709.7,914.5 L1719.0,975.0 L1728.2,1010.3 L1737.4,881.0 L1746.7,776.8 L1755.9,657.7 L1765.1,696.7 L1774.4,916.3 L1783.6,930.3 L1792.8,868.0 L1802.0,920.1 L1811.3,957.3 L1820.5,955.4 L1829.7,953.6 L1839.0,942.4 L1848.2,984.3 L1857.4,1002.0 L1866.7,862.4 L1875.9,1011.3 L1885.1,706.1 L1894.3,996.4 L1903.6,1017.8" fill="none" stroke="#ff0000" stroke-width="9" stroke-linejoin="round" stroke-linecap="round"/>
<g fill="#ff0000"><circle cx="260.6" cy="889.4" r="12"/><circle cx="269.9" cy="903.3" r="12"/><circle cx="279.1" cy="724.7" r="12"/><circle cx="288.3" cy="827.0" r="12"/><circle cx="297.6" cy="850.3" r="12"/><circle cx="306.8" cy="838.2" r="12"/><circle cx="316.0" cy="998.2" r="12"/><circle cx="325.2" cy="889.4" r="12"/><circle cx="334.5" cy="914.5" r="12"/><circle cx="343.7" cy="973.1" r="12"/><circle cx="352.9" cy="903.3" r="12"/><circle cx="362.2" cy="912.6" r="12"/><circle cx="371.4" cy="1014.0" r="12"/><circle cx="380.6" cy="885.6" r="12"/><circle cx="389.9" cy="905.2" r="12"/><circle cx="399.1" cy="1011.3" r="12"/><circle cx="408.3" cy="875.4" r="12"/><circle cx="417.5" cy="894.0" r="12"/><circle cx="426.8" cy="1018.7" r="12"/><circle cx="436.0" cy="733.0" r="12"/><circle cx="445.2" cy="724.7" r="12"/><circle cx="454.5" cy="761.9" r="12"/><circle cx="463.7" cy="823.3" r="12"/><circle cx="472.9" cy="910.8" r="12"/><circle cx="482.1" cy="1007.5" r="12"/><circle cx="491.4" cy="1009.4" r="12"/><circle cx="500.6" cy="860.5" r="12"/><circle cx="509.8" cy="864.2" r="12"/><circle cx="519.1" cy="793.5" r="12"/><circle cx="528.3" cy="930.3" r="12"/><circle cx="537.5" cy="671.6" r="12"/><circle cx="546.8" cy="1015.9" r="12"/><circle cx="556.0" cy="972.2" r="12"/><circle cx="565.2" cy="1009.4" r="12"/><circle cx="574.5" cy="663.2" r="12"/><circle cx="583.7" cy="743.3" r="12"/><circle cx="592.9" cy="992.6" r="12"/><circle cx="602.1" cy="614.9" r="12"/><circle cx="611.4" cy="926.6" r="12"/><circle cx="620.6" cy="938.7" r="12"/><circle cx="629.8" cy="769.3" r="12"/><circle cx="639.1" cy="930.3" r="12"/><circle cx="648.3" cy="864.2" r="12"/><circle cx="657.5" cy="815.9" r="12"/><circle cx="666.8" cy="789.8" r="12"/><circle cx="676.0" cy="953.6" r="12"/><circle cx="685.2" cy="955.4" r="12"/><circle cx="694.4" cy="928.4" r="12"/><circle cx="703.7" cy="988.0" r="12"/><circle cx="712.9" cy="942.4" r="12"/><circle cx="722.1" cy="964.7" r="12"/><circle cx="731.4" cy="875.4" r="12"/><circle cx="740.6" cy="938.7" r="12"/><circle cx="749.8" cy="879.1" r="12"/><circle cx="759.1" cy="694.9" r="12"/><circle cx="768.3" cy="879.1" r="12"/><circle cx="777.5" cy="873.5" r="12"/><circle cx="786.7" cy="955.4" r="12"/><circle cx="796.0" cy="921.9" r="12"/><circle cx="805.2" cy="935.0" r="12"/><circle cx="814.4" cy="907.0" r="12"/><circle cx="823.7" cy="1017.8" r="12"/><circle cx="832.9" cy="778.6" r="12"/><circle cx="842.1" cy="681.9" r="12"/><circle cx="851.4" cy="1007.5" r="12"/><circle cx="860.6" cy="888.4" r="12"/><circle cx="869.8" cy="738.6" r="12"/><circle cx="879.0" cy="966.6" r="12"/><circle cx="888.3" cy="992.6" r="12"/><circle cx="897.5" cy="862.4" r="12"/><circle cx="906.7" cy="1007.5" r="12"/><circle cx="916.0" cy="862.4" r="12"/><circle cx="925.2" cy="894.0" r="12"/><circle cx="934.4" cy="948.0" r="12"/><circle cx="943.6" cy="815.9" r="12"/><circle cx="952.9" cy="976.8" r="12"/><circle cx="962.1" cy="883.8" r="12"/><circle cx="971.3" cy="918.2" r="12"/><circle cx="980.6" cy="912.6" r="12"/><circle cx="989.8" cy="794.4" r="12"/><circle cx="999.0" cy="883.8" r="12"/><circle cx="1008.3" cy="935.0" r="12"/><circle cx="1017.5" cy="988.9" r="12"/><circle cx="1026.7" cy="613.0" r="12"/><circle cx="1036.0" cy="930.3" r="12"/><circle cx="1045.2" cy="712.6" r="12"/><circle cx="1054.4" cy="864.2" r="12"/><circle cx="1063.6" cy="850.3" r="12"/><circle cx="1072.9" cy="930.3" r="12"/><circle cx="1082.1" cy="935.0" r="12"/><circle cx="1091.3" cy="815.9" r="12"/><circle cx="1100.6" cy="667.9" r="12"/><circle cx="1109.8" cy="968.5" r="12"/><circle cx="1119.0" cy="912.6" r="12"/><circle cx="1128.2" cy="835.4" r="12"/><circle cx="1137.5" cy="980.5" r="12"/><circle cx="1146.7" cy="892.2" r="12"/><circle cx="1155.9" cy="930.3" r="12"/><circle cx="1165.2" cy="998.2" r="12"/><circle cx="1174.4" cy="873.5" r="12"/><circle cx="1183.6" cy="925.7" r="12"/><circle cx="1192.9" cy="990.8" r="12"/><circle cx="1202.1" cy="1007.5" r="12"/><circle cx="1211.3" cy="641.8" r="12"/><circle cx="1220.6" cy="743.3" r="12"/><circle cx="1229.8" cy="1018.7" r="12"/><circle cx="1239.0" cy="782.4" r="12"/><circle cx="1248.2" cy="988.9" r="12"/><circle cx="1257.5" cy="893.1" r="12"/><circle cx="1266.7" cy="926.6" r="12"/><circle cx="1275.9" cy="962.9" r="12"/><circle cx="1285.2" cy="663.2" r="12"/><circle cx="1294.4" cy="1015.9" r="12"/><circle cx="1303.6" cy="1015.9" r="12"/><circle cx="1312.9" cy="836.3" r="12"/><circle cx="1322.1" cy="962.9" r="12"/><circle cx="1331.3" cy="914.5" r="12"/><circle cx="1340.5" cy="966.6" r="12"/><circle cx="1349.8" cy="953.6" r="12"/><circle cx="1359.0" cy="962.9" r="12"/><circle cx="1368.2" cy="981.5" r="12"/><circle cx="1377.5" cy="1009.4" r="12"/><circle cx="1386.7" cy="914.5" r="12"/><circle cx="1395.9" cy="981.5" r="12"/><circle cx="1405.2" cy="938.7" r="12"/><circle cx="1414.4" cy="611.1" r="12"/><circle cx="1423.6" cy="821.4" r="12"/><circle cx="1432.8" cy="988.9" r="12"/><circle cx="1442.1" cy="938.7" r="12"/><circle cx="1451.3" cy="690.2" r="12"/><circle cx="1460.5" cy="793.5" r="12"/><circle cx="1469.8" cy="879.1" r="12"/><circle cx="1479.0" cy="903.3" r="12"/><circle cx="1488.2" cy="996.4" r="12"/><circle cx="1497.5" cy="803.8" r="12"/><circle cx="1506.7" cy="814.0" r="12"/><circle cx="1515.9" cy="914.5" r="12"/><circle cx="1525.1" cy="877.3" r="12"/><circle cx="1534.4" cy="776.8" r="12"/><circle cx="1543.6" cy="787.9" r="12"/><circle cx="1552.8" cy="879.1" r="12"/><circle cx="1562.1" cy="763.7" r="12"/><circle cx="1571.3" cy="838.2" r="12"/><circle cx="1580.5" cy="992.6" r="12"/><circle cx="1589.8" cy="949.8" r="12"/><circle cx="1599.0" cy="951.7" r="12"/><circle cx="1608.2" cy="798.2" r="12"/><circle cx="1617.4" cy="984.3" r="12"/><circle cx="1626.7" cy="1012.6" r="12"/><circle cx="1635.9" cy="891.2" r="12"/><circle cx="1645.1" cy="921.9" r="12"/><circle cx="1654.4" cy="753.5" r="12"/><circle cx="1663.6" cy="938.7" r="12"/><circle cx="1672.8" cy="821.4" r="12"/><circle cx="1682.1" cy="948.0" r="12"/><circle cx="1691.3" cy="880.1" r="12"/><circle cx="1700.5" cy="984.3" r="12"/><circle cx="1709.7" cy="914.5" r="12"/><circle cx="1719.0" cy="975.0" r="12"/><circle cx="1728.2" cy="1010.3" r="12"/><circle cx="1737.4" cy="881.0" r="12"/><circle cx="1746.7" cy="776.8" r="12"/><circle cx="1755.9" cy="657.7" r="12"/><circle cx="1765.1" cy="696.7" r="12"/><circle cx="1774.4" cy="916.3" r="12"/><circle cx="1783.6" cy="930.3" r="12"/><circle cx="1792.8" cy="868.0" r="12"/><circle cx="1802.0" cy="920.1" r="12"/><circle cx="1811.3" cy="957.3" r="12"/><circle cx="1820.5" cy="955.4" r="12"/><circle cx="1829.7" cy="953.6" r="12"/><circle cx="1839.0" cy="942.4" r="12"/><circle cx="1848.2" cy="984.3" r="12"/><circle cx="1857.4" cy="1002.0" r="12"/><circle cx="1866.7" cy="862.4" r="12"/><circle cx="1875.9" cy="1011.3" r="12"/><circle cx="1885.1" cy="706.1" r="12"/><circle cx="1894.3" cy="996.4" r="12"/><circle cx="1903.6" cy="1017.8" r="12"/></g>
<ellipse cx="260.6" cy="889.4" rx="5.5" ry="3.5" fill="#ffffff"/>
<ellipse cx="1903.6" cy="1017.8" rx="5.5" ry="3.5" fill="#ffffff"/>
<path d="M260.6,837.3 L269.9,932.2 L279.1,968.5 L288.3,940.5 L297.6,959.1 L306.8,959.1 L316.0,998.2 L325.2,912.6 L334.5,1005.7 L343.7,856.8 L352.9,925.7 L362.2,889.4 L371.4,918.2 L380.6,959.1 L389.9,959.1 L399.1,927.5 L408.3,1015.9 L417.5,992.6 L426.8,992.6 L436.0,1015.0 L445.2,992.6 L454.5,976.8 L463.7,943.3 L472.9,968.5 L482.1,918.2 L491.4,1002.0 L500.6,883.8 L509.8,918.2 L519.1,880.1 L528.3,976.8 L537.5,1002.0 L546.8,1007.5 L556.0,875.4 L565.2,1002.0 L574.5,948.0 L583.7,907.0 L592.9,986.1 L602.1,949.8 L611.4,966.6 L620.6,1008.5 L629.8,943.3 L639.1,962.9 L648.3,910.8 L657.5,982.4 L666.8,800.0 L676.0,937.7 L685.2,864.2 L694.4,955.4 L703.7,955.4 L712.9,955.4 L722.1,939.6 L731.4,903.3 L740.6,946.1 L749.8,1018.7 L759.1,992.6 L768.3,1005.7 L777.5,980.5 L786.7,1005.7 L796.0,975.0 L805.2,981.5 L814.4,1005.7 L823.7,1009.4 L832.9,973.1 L842.1,789.8 L851.4,1011.3 L860.6,941.5 L869.8,873.5 L879.0,914.5 L888.3,910.8 L897.5,920.1 L906.7,998.2 L916.0,969.4 L925.2,969.4 L934.4,918.2 L943.6,934.0 L952.9,901.5 L962.1,980.5 L971.3,966.6 L980.6,1012.2 L989.8,970.3 L999.0,912.6 L1008.3,899.6 L1017.5,1018.7 L1026.7,842.8 L1036.0,996.4 L1045.2,942.4 L1054.4,921.9 L1063.6,868.0 L1072.9,980.5 L1082.1,858.7 L1091.3,948.0 L1100.6,892.2 L1109.8,968.5 L1119.0,968.5 L1128.2,948.0 L1137.5,968.5 L1146.7,998.2 L1155.9,980.5 L1165.2,921.9 L1174.4,876.3 L1183.6,990.8 L1192.9,992.6 L1202.1,879.1 L1211.3,1018.7 L1220.6,757.2 L1229.8,996.4 L1239.0,854.9 L1248.2,980.5 L1257.5,1011.3 L1266.7,1014.0 L1275.9,968.5 L1285.2,848.4 L1294.4,923.8 L1303.6,1002.0 L1312.9,992.6 L1322.1,930.3 L1331.3,1009.4 L1340.5,984.3 L1349.8,984.3 L1359.0,933.1 L1368.2,1002.0 L1377.5,1003.8 L1386.7,998.2 L1395.9,781.4 L1405.2,973.1 L1414.4,923.8 L1423.6,903.3 L1432.8,850.3 L1442.1,880.1 L1451.3,948.0 L1460.5,990.8 L1469.8,891.2 L1479.0,932.2 L1488.2,959.1 L1497.5,988.0 L1506.7,986.1 L1515.9,962.9 L1525.1,968.5 L1534.4,858.7 L1543.6,925.7 L1552.8,875.4 L1562.1,1011.3 L1571.3,893.1 L1580.5,823.3 L1589.8,966.6 L1599.0,992.6 L1608.2,789.8 L1617.4,962.9 L1626.7,962.9 L1635.9,966.6 L1645.1,976.8 L1654.4,854.9 L1663.6,955.4 L1672.8,1017.8 L1682.1,988.9 L1691.3,912.6 L1700.5,962.9 L1709.7,1002.0 L1719.0,962.9 L1728.2,896.8 L1737.4,994.5 L1746.7,839.1 L1755.9,976.8 L1765.1,880.1 L1774.4,1011.3 L1783.6,966.6 L1792.8,907.0 L1802.0,1012.2 L1811.3,944.3 L1820.5,899.6 L1829.7,916.3 L1839.0,1009.4 L1848.2,1015.9 L1857.4,1017.8 L1866.7,962.9 L1875.9,912.6 L1885.1,912.6 L1894.3,968.5 L1903.6,932.2" fill="none" stroke="#00ff00" stroke-width="9" stroke-linejoin="round" stroke-linecap="round"/>
<g fill="#00ff00"><rect x="249.6" y="826.3" width="22" height="22"/><rect x="258.9" y="921.2" width="22" height="22"/><rect x="268.1" y="957.5" width="22" height="22"/><rect x="277.3" y="929.5" width="22" height="22"/><rect x="286.6" y="948.1" width="22" height="22"/><rect x="295.8" y="948.1" width="22" height="22"/><rect x="305.0" y="987.2" width="22" height="22"/><rect x="314.2" y="901.6" width="22" height="22"/><rect x="323.5" y="994.7" width="22" height="22"/><rect x="332.7" y="845.8" width="22" height="22"/><rect x="341.9" y="914.7" width="22" height="22"/><rect x="351.2" y="878.4" width="22" height="22"/><rect x="360.4" y="907.2" width="22" height="22"/><rect x="369.6" y="948.1" width="22" height="22"/><rect x="378.9" y="948.1" width="22" height="22"/><rect x="388.1" y="916.5" width="22" height="22"/><rect x="397.3" y="1004.9" width="22" height="22"/><rect x="406.5" y="981.6" width="22" height="22"/><rect x="415.8" y="981.6" width="22" height="22"/><rect x="425.0" y="1004.0" width="22" height="22"/><rect x="434.2" y="981.6" width="22" height="22"/><rect x="443.5" y="965.8" width="22" height="22"/><rect x="452.7" y="932.3" width="22" height="22"/><rect x="461.9" y="957.5" width="22" height="22"/><rect x="471.1" y="907.2" width="22" height="22"/><rect x="480.4" y="991.0" width="22" height="22"/><rect x="489.6" y="872.8" width="22" height="22"/><rect x="498.8" y="907.2" width="22" height="22"/><rect x="508.1" y="869.1" width="22" height="22"/><rect x="517.3" y="965.8" width="22" height="22"/><rect x="526.5" y="991.0" width="22" height="22"/><rect x="535.8" y="996.5" width="22" height="22"/><rect x="545.0" y="864.4" width="22" height="22"/><rect x="554.2" y="991.0" width="22" height="22"/><rect x="563.5" y="937.0" width="22" height="22"/><rect x="572.7" y="896.0" width="22" height="22"/><rect x="581.9" y="975.1" width="22" height="22"/><rect x="591.1" y="938.8" width="22" height="22"/><rect x="600.4" y="955.6" width="22" height="22"/><rect x="609.6" y="997.5" width="22" height="22"/><rect x="618.8" y="932.3" width="22" height="22"/><rect x="628.1" y="951.9" width="22" height="22"/><rect x="637.3" y="899.8" width="22" height="22"/><rect x="646.5" y="971.4" width="22" height="22"/><rect x="655.8" y="789.0" width="22" height="22"/><rect x="665.0" y="926.7" width="22" height="22"/><rect x="674.2" y="853.2" width="22" height="22"/><rect x="683.4" y="944.4" width="22" height="22"/><rect x="692.7" y="944.4" width="22" height="22"/><rect x="701.9" y="944.4" width="22" height="22"/><rect x="711.1" y="928.6" width="22" height="22"/><rect x="720.4" y="892.3" width="22" height="22"/><rect x="729.6" y="935.1" width="22" height="22"/><rect x="738.8" y="1007.7" width="22" height="22"/><rect x="748.1" y="981.6" width="22" height="22"/><rect x="757.3" y="994.7" width="22" height="22"/><rect x="766.5" y="969.5" width="22" height="22"/><rect x="775.7" y="994.7" width="22" height="22"/><rect x="785.0" y="964.0" width="22" height="22"/><rect x="794.2" y="970.5" width="22" height="22"/><rect x="803.4" y="994.7" width="22" height="22"/><rect x="812.7" y="998.4" width="22" height="22"/><rect x="821.9" y="962.1" width="22" height="22"/><rect x="831.1" y="778.8" width="22" height="22"/><rect x="840.4" y="1000.3" width="22" height="22"/><rect x="849.6" y="930.5" width="22" height="22"/><rect x="858.8" y="862.5" width="22" height="22"/><rect x="868.0" y="903.5" width="22" height="22"/><rect x="877.3" y="899.8" width="22" height="22"/><rect x="886.5" y="909.1" width="22" height="22"/><rect x="895.7" y="987.2" width="22" height="22"/><rect x="905.0" y="958.4" width="22" height="22"/><rect x="914.2" y="958.4" width="22" height="22"/><rect x="923.4" y="907.2" width="22" height="22"/><rect x="932.6" y="923.0" width="22" height="22"/><rect x="941.9" y="890.5" width="22" height="22"/><rect x="951.1" y="969.5" width="22" height="22"/><rect x="960.3" y="955.6" width="22" height="22"/><rect x="969.6" y="1001.2" width="22" height="22"/><rect x="978.8" y="959.3" width="22" height="22"/><rect x="988.0" y="901.6" width="22" height="22"/><rect x="997.3" y="888.6" width="22" height="22"/><rect x="1006.5" y="1007.7" width="22" height="22"/><rect x="1015.7" y="831.8" width="22" height="22"/><rect x="1025.0" y="985.4" width="22" height="22"/><rect x="1034.2" y="931.4" width="22" height="22"/><rect x="1043.4" y="910.9" width="22" height="22"/><rect x="1052.6" y="857.0" width="22" height="22"/><rect x="1061.9" y="969.5" width="22" height="22"/><rect x="1071.1" y="847.7" width="22" height="22"/><rect x="1080.3" y="937.0" width="22" height="22"/><rect x="1089.6" y="881.2" width="22" height="22"/><rect x="1098.8" y="957.5" width="22" height="22"/><rect x="1108.0" y="957.5" width="22" height="22"/><rect x="1117.2" y="937.0" width="22" height="22"/><rect x="1126.5" y="957.5" width="22" height="22"/><rect x="1135.7" y="987.2" width="22" height="22"/><rect x="1144.9" y="969.5" width="22" height="22"/><rect x="1154.2" y="910.9" width="22" height="22"/><rect x="1163.4" y="865.3" width="22" height="22"/><rect x="1172.6" y="979.8" width="22" height="22"/><rect x="1181.9" y="981.6" width="22" height="22"/><rect x="1191.1" y="868.1" width="22" height="22"/><rect x="1200.3" y="1007.7" width="22" height="22"/><rect x="1209.6" y="746.2" width="22" height="22"/><rect x="1218.8" y="985.4" width="22" height="22"/><rect x="1228.0" y="843.9" width="22" height="22"/><rect x="1237.2" y="969.5" width="22" height="22"/><rect x="1246.5" y="1000.3" width="22" height="22"/><rect x="1255.7" y="1003.0" width="22" height="22"/><rect x="1264.9" y="957.5" width="22" height="22"/><rect x="1274.2" y="837.4" width="22" height="22"/><rect x="1283.4" y="912.8" width="22" height="22"/><rect x="1292.6" y="991.0" width="22" height="22"/><rect x="1301.9" y="981.6" width="22" height="22"/><rect x="1311.1" y="919.3" width="22" height="22"/><rect x="1320.3" y="998.4" width="22" height="22"/><rect x="1329.5" y="973.3" width="22" height="22"/><rect x="1338.8" y="973.3" width="22" height="22"/><rect x="1348.0" y="922.1" width="22" height="22"/><rect x="1357.2" y="991.0" width="22" height="22"/><rect x="1366.5" y="992.8" width="22" height="22"/><rect x="1375.7" y="987.2" width="22" height="22"/><rect x="1384.9" y="770.4" width="22" height="22"/><rect x="1394.2" y="962.1" width="22" height="22"/><rect x="1403.4" y="912.8" width="22" height="22"/><rect x="1412.6" y="892.3" width="22" height="22"/><rect x="1421.8" y="839.3" width="22" height="22"/><rect x="1431.1" y="869.1" width="22" height="22"/><rect x="1440.3" y="937.0" width="22" height="22"/><rect x="1449.5" y="979.8" width="22" height="22"/><rect x="1458.8" y="880.2" width="22" height="22"/><rect x="1468.0" y="921.2" width="22" height="22"/><rect x="1477.2" y="948.1" width="22" height="22"/><rect x="1486.5" y="977.0" width="22" height="22"/><rect x="1495.7" y="975.1" width="22" height="22"/><rect x="1504.9" y="951.9" width="22" height="22"/><rect x="1514.1" y="957.5" width="22" height="22"/><rect x="1523.4" y="847.7" width="22" height="22"/><rect x="1532.6" y="914.7" width="22" height="22"/><rect x="1541.8" y="864.4" width="22" height="22"/><rect x="1551.1" y="1000.3" width="22" height="22"/><rect x="1560.3" y="882.1" width="22" height="22"/><rect x="1569.5" y="812.3" width="22" height="22"/><rect x="1578.8" y="955.6" width="22" height="22"/><rect x="1588.0" y="981.6" width="22" height="22"/><rect x="1597.2" y="778.8" width="22" height="22"/><rect x="1606.4" y="951.9" width="22" height="22"/><rect x="1615.7" y="951.9" width="22" height="22"/><rect x="1624.9" y="955.6" width="22" height="22"/><rect x="1634.1" y="965.8" width="22" height="22"/><rect x="1643.4" y="843.9" width="22" height="22"/><rect x="1652.6" y="944.4" width="22" height="22"/><rect x="1661.8" y="1006.8" width="22" height="22"/><rect x="1671.1" y="977.9" width="22" height="22"/><rect x="1680.3" y="901.6" width="22" height="22"/><rect x="1689.5" y="951.9" width="22" height="22"/><rect x="1698.7" y="991.0" width="22" height="22"/><rect x="1708.0" y="951.9" width="22" height="22"/><rect x="1717.2" y="885.8" width="22" height="22"/><rect x="1726.4" y="983.5" width="22" height="22"/><rect x="1735.7" y="828.1" width="22" height="22"/><rect x="1744.9" y="965.8" width="22" height="22"/><rect x="1754.1" y="869.1" width="22" height="22"/><rect x="1763.4" y="1000.3" width="22" height="22"/><rect x="1772.6" y="955.6" width="22" height="22"/><rect x="1781.8" y="896.0" width="22" height="22"/><rect x="1791.0" y="1001.2" width="22" height="22"/><rect x="1800.3" y="933.3" width="22" height="22"/><rect x="1809.5" y="888.6" width="22" height="22"/><rect x="1818.7" y="905.3" width="22" height="22"/><rect x="1828.0" y="998.4" width="22" height="22"/><rect x="1837.2" y="1004.9" width="22" height="22"/><rect x="1846.4" y="1006.8" width="22" height="22"/><rect x="1855.7" y="951.9" width="22" height="22"/><rect x="1864.9" y="901.6" width="22" height="22"/><rect x="1874.1" y="901.6" width="22" height="22"/><rect x="1883.3" y="957.5" width="22" height="22"/><rect x="1892.6" y="921.2" width="22" height="22"/></g>
<circle cx="260.6" cy="837.3" r="2" fill="#ffffff"/>
<circle cx="1903.6" cy="932.2" r="2" fill="#ffffff"/>
<line x1="435.7" y1="1133.0" x2="435.7" y2="1539.0" stroke="#e8e8e8" stroke-width="2"/>
<line x1="620.4" y1="1133.0" x2="620.4" y2="1539.0" stroke="#e8e8e8" stroke-width="2"/>
<line x1="805.1" y1="1133.0" x2="805.1" y2="1539.0" stroke="#e8e8e8" stroke-width="2"/>
<line x1="989.8" y1="1133.0" x2="989.8" y2="1539.0" stroke="#e8e8e8" stroke-width="2"/>
<line x1="1174.5" y1="1133.0" x2="1174.5" y2="1539.0" stroke="#e8e8e8" stroke-width="2"/>
<line x1="1359.2" y1="1133.0" x2="1359.2" y2="1539.0" stroke="#e8e8e8" stroke-width="2"/>
<line x1="1543.9" y1="1133.0" x2="1543.9" y2="1539.0" stroke="#e8e8e8" stroke-width="2"/>
<line x1="1728.6" y1="1133.0" x2="1728.6" y2="1539.0" stroke="#e8e8e8" stroke-width="2"/>
<line x1="1913.3" y1="1133.0" x2="1913.3" y2="1539.0" stroke="#e8e8e8" stroke-width="2"/>
<line x1="251.0" y1="1336.1" x2="1913.3" y2="1336.1" stroke="#e8e8e8" stroke-width="2"/>
<line x1="251.0" y1="1133.2" x2="1913.3" y2="1133.2" stroke="#e8e8e8" stroke-width="2"/>
<line x1="251.0" y1="1133.0" x2="251.0" y2="1540.0" stroke="#7a7a7a" stroke-width="2.4"/>
<line x1="250.0" y1="1539.0" x2="1913.3" y2="1539.0" stroke="#7a7a7a" stroke-width="2.4"/>
<line x1="251.0" y1="1539.0" x2="268.0" y2="1539.0" stroke="#7a7a7a" stroke-width="2.4"/>
<line x1="251.0" y1="1336.1" x2="268.0" y2="1336.1" stroke="#7a7a7a" stroke-width="2.4"/>
<line x1="251.0" y1="1133.2" x2="268.0" y2="1133.2" stroke="#7a7a7a" stroke-width="2.4"/>
<line x1="435.7" y1="1539.0" x2="435.7" y2="1522.0" stroke="#7a7a7a" stroke-width="2.4"/>
<line x1="620.4" y1="1539.0" x2="620.4" y2="1522.0" stroke="#7a7a7a" stroke-width="2.4"/>
<line x1="805.1" y1="1539.0" x2="805.1" y2="1522.0" stroke="#7a7a7a" stroke-width="2.4"/>
<line x1="989.8" y1="1539.0" x2="989.8" y2="1522.0" stroke="#7a7a7a" stroke-width="2.4"/>
<line x1="1174.5" y1="1539.0" x2="1174.5" y2="1522.0" stroke="#7a7a7a" stroke-width="2.4"/>
<line x1="1359.2" y1="1539.0" x2="1359.2" y2="1522.0" stroke="#7a7a7a" stroke-width="2.4"/>
<line x1="1543.9" y1="1539.0" x2="1543.9" y2="1522.0" stroke="#7a7a7a" stroke-width="2.4"/>
<line x1="1728.6" y1="1539.0" x2="1728.6" y2="1522.0" stroke="#7a7a7a" stroke-width="2.4"/>
<line x1="1913.3" y1="1539.0" x2="1913.3" y2="1522.0" stroke="#7a7a7a" stroke-width="2.4"/>
<text x="234.5" y="1559.5" font-size="50" text-anchor="end" fill="#262626" font-family="'Liberation Sans', Arial, Helvetica, sans-serif" >0</text>
<text x="234.5" y="1356.6" font-size="50" text-anchor="end" fill="#262626" font-family="'Liberation Sans', Arial, Helvetica, sans-serif" >10</text>
<text x="234.5" y="1153.7" font-size="50" text-anchor="end" fill="#262626" font-family="'Liberation Sans', Arial, Helvetica, sans-serif" >20</text>
<text x="251.0" y="1607.0" font-size="50" text-anchor="middle" fill="#262626" font-family="'Liberation Sans', Arial, Helvetica, sans-serif" >0</text>
<text x="435.7" y="1607.0" font-size="50" text-anchor="middle" fill="#262626" font-family="'Liberation Sans', Arial, Helvetica, sans-serif" >20</text>
<text x="620.4" y="1607.0" font-size="50" text-anchor="middle" fill="#262626" font-family="'Liberation Sans', Arial, Helvetica, sans-serif" >40</text>
<text x="805.1" y="1607.0" font-size="50" text-anchor="middle" fill="#262626" font-family="'Liberation Sans', Arial, Helvetica, sans-serif" >60</text>
<text x="989.8" y="1607.0" font-size="50" text-anchor="middle" fill="#262626" font-family="'Liberation Sans', Arial, Helvetica, sans-serif" >80</text>
<text x="1174.5" y="1607.0" font-size="50" text-anchor="middle" fill="#262626" font-family="'Liberation Sans', Arial, Helvetica, sans-serif" >100</text>
<text x="1359.2" y="1607.0" font-size="50" text-anchor="middle" fill="#262626" font-family="'Liberation Sans', Arial, Helvetica, sans-serif" >120</text>
<text x="1543.9" y="1607.0" font-size="50" text-anchor="middle" fill="#262626" font-family="'Liberation Sans', Arial, Helvetica, sans-serif" >140</text>
<text x="1728.6" y="1607.0" font-size="50" text-anchor="middle" fill="#262626" font-family="'Liberation Sans', Arial, Helvetica, sans-serif" >160</text>
<text x="1913.3" y="1607.0" font-size="50" text-anchor="middle" fill="#262626" font-family="'Liberation Sans', Arial, Helvetica, sans-serif" >180</text>
<text transform="translate(158,1344.0) rotate(-90)" x="0" y="0" font-size="55" text-anchor="middle" fill="#262626" font-family="'Liberation Sans', Arial, Helvetica, sans-serif">Z_axis (m)</text>
<path d="M260.2,1521.8 L269.5,1504.5 L278.7,1509.6 L287.9,1441.6 L297.2,1470.0 L306.4,1431.5 L315.6,1423.3 L324.9,1434.5 L334.1,1468.0 L343.4,1392.9 L352.6,1486.2 L361.8,1478.1 L371.1,1468.0 L380.3,1433.5 L389.5,1457.8 L398.8,1397.0 L408.0,1478.1 L417.2,1370.6 L426.5,1504.5 L435.7,1336.1 L444.9,1512.6 L454.2,1381.8 L463.4,1455.8 L472.6,1423.3 L481.9,1455.8 L491.1,1498.4 L500.3,1392.9 L509.6,1512.6 L518.8,1451.8 L528.0,1374.7 L537.3,1356.4 L546.5,1259.0 L555.8,1352.3 L565.0,1417.3 L574.2,1382.8 L583.5,1459.9 L592.7,1413.2 L601.9,1459.9 L611.2,1427.4 L620.4,1441.6 L629.6,1370.6 L638.9,1504.5 L648.1,1409.1 L657.3,1303.6 L666.6,1405.1 L675.8,1328.0 L685.0,1504.5 L694.3,1378.7 L703.5,1309.7 L712.8,1521.8 L722.0,1267.1 L731.2,1342.2 L740.5,1512.6 L749.7,1457.8 L758.9,1417.3 L768.2,1476.1 L777.4,1425.4 L786.6,1427.4 L795.9,1334.1 L805.1,1508.6 L814.3,1514.7 L823.6,1512.6 L832.8,1418.3 L842.0,1509.6 L851.3,1521.8 L860.5,1450.7 L869.7,1447.7 L879.0,1532.9 L888.2,1389.9 L897.4,1500.4 L906.7,1495.4 L915.9,1409.1 L925.2,1498.4 L934.4,1361.5 L943.6,1451.8 L952.9,1486.2 L962.1,1451.8 L971.3,1539.0 L980.6,1401.0 L989.8,1402.0 L999.0,1392.9 L1008.3,1340.2 L1017.5,1460.9 L1026.7,1252.9 L1036.0,1495.4 L1045.2,1459.9 L1054.4,1478.1 L1063.7,1422.3 L1072.9,1521.8 L1082.2,1406.1 L1091.4,1404.1 L1100.6,1252.9 L1109.9,1521.8 L1119.1,1470.0 L1128.3,1486.2 L1137.6,1402.0 L1146.8,1478.1 L1156.0,1446.7 L1165.3,1468.0 L1174.5,1500.4 L1183.7,1401.0 L1193.0,1468.0 L1202.2,1417.3 L1211.4,1164.6 L1220.7,1366.5 L1229.9,1500.4 L1239.1,1331.0 L1248.4,1415.2 L1257.6,1441.6 L1266.8,1425.4 L1276.1,1478.1 L1285.3,1423.3 L1294.6,1292.5 L1303.8,1334.1 L1313.0,1307.7 L1322.3,1502.5 L1331.5,1459.9 L1340.7,1459.9 L1350.0,1401.0 L1359.2,1437.5 L1368.4,1433.5 L1377.7,1352.3 L1386.9,1495.4 L1396.1,1423.3 L1405.4,1441.6 L1414.6,1272.2 L1423.8,1375.7 L1433.1,1526.8 L1442.3,1423.3 L1451.5,1384.8 L1460.8,1530.9 L1470.0,1509.6 L1479.3,1439.6 L1488.5,1474.1 L1497.7,1420.3 L1507.0,1382.8 L1516.2,1495.4 L1525.4,1530.9 L1534.7,1420.3 L1543.9,1449.7 L1553.1,1151.5 L1562.4,1536.0 L1571.6,1423.3 L1580.8,1457.8 L1590.1,1356.4 L1599.3,1470.0 L1608.5,1417.3 L1617.8,1382.8 L1627.0,1453.8 L1636.2,1373.6 L1645.5,1427.4 L1654.7,1377.7 L1664.0,1273.2 L1673.2,1478.1 L1682.4,1378.7 L1691.7,1495.4 L1700.9,1470.0 L1710.1,1504.5 L1719.4,1459.9 L1728.6,1324.9 L1737.8,1498.4 L1747.1,1453.8 L1756.3,1378.7 L1765.5,1512.6 L1774.8,1488.3 L1784.0,1495.4 L1793.2,1439.6 L1802.5,1495.4 L1811.7,1509.6 L1820.9,1357.4 L1830.2,1495.4 L1839.4,1512.6 L1848.7,1384.8 L1857.9,1423.3 L1867.1,1470.0 L1876.4,1491.3 L1885.6,1526.8 L1894.8,1448.7 L1904.1,1484.2" fill="none" stroke="#ff0000" stroke-width="9" stroke-linejoin="round" stroke-linecap="round"/>
<g fill="#ff0000"><circle cx="260.2" cy="1521.8" r="12"/><circle cx="269.5" cy="1504.5" r="12"/><circle cx="278.7" cy="1509.6" r="12"/><circle cx="287.9" cy="1441.6" r="12"/><circle cx="297.2" cy="1470.0" r="12"/><circle cx="306.4" cy="1431.5" r="12"/><circle cx="315.6" cy="1423.3" r="12"/><circle cx="324.9" cy="1434.5" r="12"/><circle cx="334.1" cy="1468.0" r="12"/><circle cx="343.4" cy="1392.9" r="12"/><circle cx="352.6" cy="1486.2" r="12"/><circle cx="361.8" cy="1478.1" r="12"/><circle cx="371.1" cy="1468.0" r="12"/><circle cx="380.3" cy="1433.5" r="12"/><circle cx="389.5" cy="1457.8" r="12"/><circle cx="398.8" cy="1397.0" r="12"/><circle cx="408.0" cy="1478.1" r="12"/><circle cx="417.2" cy="1370.6" r="12"/><circle cx="426.5" cy="1504.5" r="12"/><circle cx="435.7" cy="1336.1" r="12"/><circle cx="444.9" cy="1512.6" r="12"/><circle cx="454.2" cy="1381.8" r="12"/><circle cx="463.4" cy="1455.8" r="12"/><circle cx="472.6" cy="1423.3" r="12"/><circle cx="481.9" cy="1455.8" r="12"/><circle cx="491.1" cy="1498.4" r="12"/><circle cx="500.3" cy="1392.9" r="12"/><circle cx="509.6" cy="1512.6" r="12"/><circle cx="518.8" cy="1451.8" r="12"/><circle cx="528.0" cy="1374.7" r="12"/><circle cx="537.3" cy="1356.4" r="12"/><circle cx="546.5" cy="1259.0" r="12"/><circle cx="555.8" cy="1352.3" r="12"/><circle cx="565.0" cy="1417.3" r="12"/><circle cx="574.2" cy="1382.8" r="12"/><circle cx="583.5" cy="1459.9" r="12"/><circle cx="592.7" cy="1413.2" r="12"/><circle cx="601.9" cy="1459.9" r="12"/><circle cx="611.2" cy="1427.4" r="12"/><circle cx="620.4" cy="1441.6" r="12"/><circle cx="629.6" cy="1370.6" r="12"/><circle cx="638.9" cy="1504.5" r="12"/><circle cx="648.1" cy="1409.1" r="12"/><circle cx="657.3" cy="1303.6" r="12"/><circle cx="666.6" cy="1405.1" r="12"/><circle cx="675.8" cy="1328.0" r="12"/><circle cx="685.0" cy="1504.5" r="12"/><circle cx="694.3" cy="1378.7" r="12"/><circle cx="703.5" cy="1309.7" r="12"/><circle cx="712.8" cy="1521.8" r="12"/><circle cx="722.0" cy="1267.1" r="12"/><circle cx="731.2" cy="1342.2" r="12"/><circle cx="740.5" cy="1512.6" r="12"/><circle cx="749.7" cy="1457.8" r="12"/><circle cx="758.9" cy="1417.3" r="12"/><circle cx="768.2" cy="1476.1" r="12"/><circle cx="777.4" cy="1425.4" r="12"/><circle cx="786.6" cy="1427.4" r="12"/><circle cx="795.9" cy="1334.1" r="12"/><circle cx="805.1" cy="1508.6" r="12"/><circle cx="814.3" cy="1514.7" r="12"/><circle cx="823.6" cy="1512.6" r="12"/><circle cx="832.8" cy="1418.3" r="12"/><circle cx="842.0" cy="1509.6" r="12"/><circle cx="851.3" cy="1521.8" r="12"/><circle cx="860.5" cy="1450.7" r="12"/><circle cx="869.7" cy="1447.7" r="12"/><circle cx="879.0" cy="1532.9" r="12"/><circle cx="888.2" cy="1389.9" r="12"/><circle cx="897.4" cy="1500.4" r="12"/><circle cx="906.7" cy="1495.4" r="12"/><circle cx="915.9" cy="1409.1" r="12"/><circle cx="925.2" cy="1498.4" r="12"/><circle cx="934.4" cy="1361.5" r="12"/><circle cx="943.6" cy="1451.8" r="12"/><circle cx="952.9" cy="1486.2" r="12"/><circle cx="962.1" cy="1451.8" r="12"/><circle cx="971.3" cy="1539.0" r="12"/><circle cx="980.6" cy="1401.0" r="12"/><circle cx="989.8" cy="1402.0" r="12"/><circle cx="999.0" cy="1392.9" r="12"/><circle cx="1008.3" cy="1340.2" r="12"/><circle cx="1017.5" cy="1460.9" r="12"/><circle cx="1026.7" cy="1252.9" r="12"/><circle cx="1036.0" cy="1495.4" r="12"/><circle cx="1045.2" cy="1459.9" r="12"/><circle cx="1054.4" cy="1478.1" r="12"/><circle cx="1063.7" cy="1422.3" r="12"/><circle cx="1072.9" cy="1521.8" r="12"/><circle cx="1082.2" cy="1406.1" r="12"/><circle cx="1091.4" cy="1404.1" r="12"/><circle cx="1100.6" cy="1252.9" r="12"/><circle cx="1109.9" cy="1521.8" r="12"/><circle cx="1119.1" cy="1470.0" r="12"/><circle cx="1128.3" cy="1486.2" r="12"/><circle cx="1137.6" cy="1402.0" r="12"/><circle cx="1146.8" cy="1478.1" r="12"/><circle cx="1156.0" cy="1446.7" r="12"/><circle cx="1165.3" cy="1468.0" r="12"/><circle cx="1174.5" cy="1500.4" r="12"/><circle cx="1183.7" cy="1401.0" r="12"/><circle cx="1193.0" cy="1468.0" r="12"/><circle cx="1202.2" cy="1417.3" r="12"/><circle cx="1211.4" cy="1164.6" r="12"/><circle cx="1220.7" cy="1366.5" r="12"/><circle cx="1229.9" cy="1500.4" r="12"/><circle cx="1239.1" cy="1331.0" r="12"/><circle cx="1248.4" cy="1415.2" r="12"/><circle cx="1257.6" cy="1441.6" r="12"/><circle cx="1266.8" cy="1425.4" r="12"/><circle cx="1276.1" cy="1478.1" r="12"/><circle cx="1285.3" cy="1423.3" r="12"/><circle cx="1294.6" cy="1292.5" r="12"/><circle cx="1303.8" cy="1334.1" r="12"/><circle cx="1313.0" cy="1307.7" r="12"/><circle cx="1322.3" cy="1502.5" r="12"/><circle cx="1331.5" cy="1459.9" r="12"/><circle cx="1340.7" cy="1459.9" r="12"/><circle cx="1350.0" cy="1401.0" r="12"/><circle cx="1359.2" cy="1437.5" r="12"/><circle cx="1368.4" cy="1433.5" r="12"/><circle cx="1377.7" cy="1352.3" r="12"/><circle cx="1386.9" cy="1495.4" r="12"/><circle cx="1396.1" cy="1423.3" r="12"/><circle cx="1405.4" cy="1441.6" r="12"/><circle cx="1414.6" cy="1272.2" r="12"/><circle cx="1423.8" cy="1375.7" r="12"/><circle cx="1433.1" cy="1526.8" r="12"/><circle cx="1442.3" cy="1423.3" r="12"/><circle cx="1451.5" cy="1384.8" r="12"/><circle cx="1460.8" cy="1530.9" r="12"/><circle cx="1470.0" cy="1509.6" r="12"/><circle cx="1479.3" cy="1439.6" r="12"/><circle cx="1488.5" cy="1474.1" r="12"/><circle cx="1497.7" cy="1420.3" r="12"/><circle cx="1507.0" cy="1382.8" r="12"/><circle cx="1516.2" cy="1495.4" r="12"/><circle cx="1525.4" cy="1530.9" r="12"/><circle cx="1534.7" cy="1420.3" r="12"/><circle cx="1543.9" cy="1449.7" r="12"/><circle cx="1553.1" cy="1151.5" r="12"/><circle cx="1562.4" cy="1536.0" r="12"/><circle cx="1571.6" cy="1423.3" r="12"/><circle cx="1580.8" cy="1457.8" r="12"/><circle cx="1590.1" cy="1356.4" r="12"/><circle cx="1599.3" cy="1470.0" r="12"/><circle cx="1608.5" cy="1417.3" r="12"/><circle cx="1617.8" cy="1382.8" r="12"/><circle cx="1627.0" cy="1453.8" r="12"/><circle cx="1636.2" cy="1373.6" r="12"/><circle cx="1645.5" cy="1427.4" r="12"/><circle cx="1654.7" cy="1377.7" r="12"/><circle cx="1664.0" cy="1273.2" r="12"/><circle cx="1673.2" cy="1478.1" r="12"/><circle cx="1682.4" cy="1378.7" r="12"/><circle cx="1691.7" cy="1495.4" r="12"/><circle cx="1700.9" cy="1470.0" r="12"/><circle cx="1710.1" cy="1504.5" r="12"/><circle cx="1719.4" cy="1459.9" r="12"/><circle cx="1728.6" cy="1324.9" r="12"/><circle cx="1737.8" cy="1498.4" r="12"/><circle cx="1747.1" cy="1453.8" r="12"/><circle cx="1756.3" cy="1378.7" r="12"/><circle cx="1765.5" cy="1512.6" r="12"/><circle cx="1774.8" cy="1488.3" r="12"/><circle cx="1784.0" cy="1495.4" r="12"/><circle cx="1793.2" cy="1439.6" r="12"/><circle cx="1802.5" cy="1495.4" r="12"/><circle cx="1811.7" cy="1509.6" r="12"/><circle cx="1820.9" cy="1357.4" r="12"/><circle cx="1830.2" cy="1495.4" r="12"/><circle cx="1839.4" cy="1512.6" r="12"/><circle cx="1848.7" cy="1384.8" r="12"/><circle cx="1857.9" cy="1423.3" r="12"/><circle cx="1867.1" cy="1470.0" r="12"/><circle cx="1876.4" cy="1491.3" r="12"/><circle cx="1885.6" cy="1526.8" r="12"/><circle cx="1894.8" cy="1448.7" r="12"/><circle cx="1904.1" cy="1484.2" r="12"/></g>
<ellipse cx="260.2" cy="1521.8" rx="5.5" ry="3.5" fill="#ffffff"/>
<ellipse cx="1904.1" cy="1484.2" rx="5.5" ry="3.5" fill="#ffffff"/>
<path d="M260.2,1393.9 L269.5,1512.6 L278.7,1530.9 L287.9,1530.9 L297.2,1509.6 L306.4,1536.0 L315.6,1530.9 L324.9,1497.4 L334.1,1499.4 L343.4,1534.9 L352.6,1427.4 L361.8,1502.5 L371.1,1352.3 L380.3,1482.2 L389.5,1420.3 L398.8,1484.2 L408.0,1502.5 L417.2,1411.2 L426.5,1534.9 L435.7,1459.9 L444.9,1457.8 L454.2,1525.8 L463.4,1493.3 L472.6,1493.3 L481.9,1467.0 L491.1,1506.5 L500.3,1441.6 L509.6,1506.5 L518.8,1363.5 L528.0,1467.0 L537.3,1512.6 L546.5,1532.9 L555.8,1470.0 L565.0,1427.4 L574.2,1534.9 L583.5,1462.9 L592.7,1490.3 L601.9,1481.2 L611.2,1495.4 L620.4,1498.4 L629.6,1532.9 L638.9,1509.6 L648.1,1523.8 L657.3,1421.3 L666.6,1409.1 L675.8,1486.2 L685.0,1453.8 L694.3,1523.8 L703.5,1523.8 L712.8,1434.5 L722.0,1478.1 L731.2,1468.0 L740.5,1402.0 L749.7,1464.9 L758.9,1502.5 L768.2,1502.5 L777.4,1525.8 L786.6,1500.4 L795.9,1478.1 L805.1,1433.5 L814.3,1429.4 L823.6,1536.0 L832.8,1478.1 L842.0,1479.1 L851.3,1429.4 L860.5,1404.1 L869.7,1495.4 L879.0,1455.8 L888.2,1509.6 L897.4,1384.8 L906.7,1521.8 L915.9,1417.3 L925.2,1512.6 L934.4,1432.5 L943.6,1434.5 L952.9,1509.6 L962.1,1470.0 L971.3,1528.9 L980.6,1536.0 L989.8,1432.5 L999.0,1457.8 L1008.3,1392.9 L1017.5,1525.8 L1026.7,1525.8 L1036.0,1507.6 L1045.2,1530.9 L1054.4,1436.5 L1063.7,1536.0 L1072.9,1413.2 L1082.2,1413.2 L1091.4,1478.1 L1100.6,1497.4 L1109.9,1520.7 L1119.1,1500.4 L1128.3,1486.2 L1137.6,1486.2 L1146.8,1532.9 L1156.0,1518.7 L1165.3,1399.0 L1174.5,1478.1 L1183.7,1498.4 L1193.0,1443.6 L1202.2,1427.4 L1211.4,1478.1 L1220.7,1380.7 L1229.9,1525.8 L1239.1,1462.9 L1248.4,1512.6 L1257.6,1486.2 L1266.8,1491.3 L1276.1,1451.8 L1285.3,1486.2 L1294.6,1500.4 L1303.8,1409.1 L1313.0,1504.5 L1322.3,1417.3 L1331.5,1479.1 L1340.7,1334.1 L1350.0,1512.6 L1359.2,1459.9 L1368.4,1530.9 L1377.7,1459.9 L1386.9,1468.0 L1396.1,1418.3 L1405.4,1512.6 L1414.6,1427.4 L1423.8,1523.8 L1433.1,1434.5 L1442.3,1411.2 L1451.5,1536.0 L1460.8,1481.2 L1470.0,1495.4 L1479.3,1470.0 L1488.5,1500.4 L1497.7,1530.9 L1507.0,1530.9 L1516.2,1474.1 L1525.4,1453.8 L1534.7,1375.7 L1543.9,1530.9 L1553.1,1343.2 L1562.4,1470.0 L1571.6,1490.3 L1580.8,1534.9 L1590.1,1534.9 L1599.3,1534.9 L1608.5,1495.4 L1617.8,1422.3 L1627.0,1420.3 L1636.2,1420.3 L1645.5,1498.4 L1654.7,1495.4 L1664.0,1450.7 L1673.2,1495.4 L1682.4,1491.3 L1691.7,1393.9 L1700.9,1498.4 L1710.1,1512.6 L1719.4,1441.6 L1728.6,1413.2 L1737.8,1490.3 L1747.1,1495.4 L1756.3,1514.7 L1765.5,1393.9 L1774.8,1470.0 L1784.0,1525.8 L1793.2,1504.5 L1802.5,1526.8 L1811.7,1516.7 L1820.9,1462.9 L1830.2,1504.5 L1839.4,1538.0 L1848.7,1498.4 L1857.9,1536.0 L1867.1,1534.9 L1876.4,1500.4 L1885.6,1512.6 L1894.8,1455.8 L1904.1,1470.0" fill="none" stroke="#00ff00" stroke-width="9" stroke-linejoin="round" stroke-linecap="round"/>
<g fill="#00ff00"><rect x="249.2" y="1382.9" width="22" height="22"/><rect x="258.5" y="1501.6" width="22" height="22"/><rect x="267.7" y="1519.9" width="22" height="22"/><rect x="276.9" y="1519.9" width="22" height="22"/><rect x="286.2" y="1498.6" width="22" height="22"/><rect x="295.4" y="1525.0" width="22" height="22"/><rect x="304.6" y="1519.9" width="22" height="22"/><rect x="313.9" y="1486.4" width="22" height="22"/><rect x="323.1" y="1488.4" width="22" height="22"/><rect x="332.4" y="1523.9" width="22" height="22"/><rect x="341.6" y="1416.4" width="22" height="22"/><rect x="350.8" y="1491.5" width="22" height="22"/><rect x="360.1" y="1341.3" width="22" height="22"/><rect x="369.3" y="1471.2" width="22" height="22"/><rect x="378.5" y="1409.3" width="22" height="22"/><rect x="387.8" y="1473.2" width="22" height="22"/><rect x="397.0" y="1491.5" width="22" height="22"/><rect x="406.2" y="1400.2" width="22" height="22"/><rect x="415.5" y="1523.9" width="22" height="22"/><rect x="424.7" y="1448.9" width="22" height="22"/><rect x="433.9" y="1446.8" width="22" height="22"/><rect x="443.2" y="1514.8" width="22" height="22"/><rect x="452.4" y="1482.3" width="22" height="22"/><rect x="461.6" y="1482.3" width="22" height="22"/><rect x="470.9" y="1456.0" width="22" height="22"/><rect x="480.1" y="1495.5" width="22" height="22"/><rect x="489.3" y="1430.6" width="22" height="22"/><rect x="498.6" y="1495.5" width="22" height="22"/><rect x="507.8" y="1352.5" width="22" height="22"/><rect x="517.0" y="1456.0" width="22" height="22"/><rect x="526.3" y="1501.6" width="22" height="22"/><rect x="535.5" y="1521.9" width="22" height="22"/><rect x="544.8" y="1459.0" width="22" height="22"/><rect x="554.0" y="1416.4" width="22" height="22"/><rect x="563.2" y="1523.9" width="22" height="22"/><rect x="572.5" y="1451.9" width="22" height="22"/><rect x="581.7" y="1479.3" width="22" height="22"/><rect x="590.9" y="1470.2" width="22" height="22"/><rect x="600.2" y="1484.4" width="22" height="22"/><rect x="609.4" y="1487.4" width="22" height="22"/><rect x="618.6" y="1521.9" width="22" height="22"/><rect x="627.9" y="1498.6" width="22" height="22"/><rect x="637.1" y="1512.8" width="22" height="22"/><rect x="646.3" y="1410.3" width="22" height="22"/><rect x="655.6" y="1398.1" width="22" height="22"/><rect x="664.8" y="1475.2" width="22" height="22"/><rect x="674.0" y="1442.8" width="22" height="22"/><rect x="683.3" y="1512.8" width="22" height="22"/><rect x="692.5" y="1512.8" width="22" height="22"/><rect x="701.8" y="1423.5" width="22" height="22"/><rect x="711.0" y="1467.1" width="22" height="22"/><rect x="720.2" y="1457.0" width="22" height="22"/><rect x="729.5" y="1391.0" width="22" height="22"/><rect x="738.7" y="1453.9" width="22" height="22"/><rect x="747.9" y="1491.5" width="22" height="22"/><rect x="757.2" y="1491.5" width="22" height="22"/><rect x="766.4" y="1514.8" width="22" height="22"/><rect x="775.6" y="1489.4" width="22" height="22"/><rect x="784.9" y="1467.1" width="22" height="22"/><rect x="794.1" y="1422.5" width="22" height="22"/><rect x="803.3" y="1418.4" width="22" height="22"/><rect x="812.6" y="1525.0" width="22" height="22"/><rect x="821.8" y="1467.1" width="22" height="22"/><rect x="831.0" y="1468.1" width="22" height="22"/><rect x="840.3" y="1418.4" width="22" height="22"/><rect x="849.5" y="1393.1" width="22" height="22"/><rect x="858.7" y="1484.4" width="22" height="22"/><rect x="868.0" y="1444.8" width="22" height="22"/><rect x="877.2" y="1498.6" width="22" height="22"/><rect x="886.4" y="1373.8" width="22" height="22"/><rect x="895.7" y="1510.8" width="22" height="22"/><rect x="904.9" y="1406.3" width="22" height="22"/><rect x="914.2" y="1501.6" width="22" height="22"/><rect x="923.4" y="1421.5" width="22" height="22"/><rect x="932.6" y="1423.5" width="22" height="22"/><rect x="941.9" y="1498.6" width="22" height="22"/><rect x="951.1" y="1459.0" width="22" height="22"/><rect x="960.3" y="1517.9" width="22" height="22"/><rect x="969.6" y="1525.0" width="22" height="22"/><rect x="978.8" y="1421.5" width="22" height="22"/><rect x="988.0" y="1446.8" width="22" height="22"/><rect x="997.3" y="1381.9" width="22" height="22"/><rect x="1006.5" y="1514.8" width="22" height="22"/><rect x="1015.7" y="1514.8" width="22" height="22"/><rect x="1025.0" y="1496.6" width="22" height="22"/><rect x="1034.2" y="1519.9" width="22" height="22"/><rect x="1043.4" y="1425.5" width="22" height="22"/><rect x="1052.7" y="1525.0" width="22" height="22"/><rect x="1061.9" y="1402.2" width="22" height="22"/><rect x="1071.2" y="1402.2" width="22" height="22"/><rect x="1080.4" y="1467.1" width="22" height="22"/><rect x="1089.6" y="1486.4" width="22" height="22"/><rect x="1098.9" y="1509.7" width="22" height="22"/><rect x="1108.1" y="1489.4" width="22" height="22"/><rect x="1117.3" y="1475.2" width="22" height="22"/><rect x="1126.6" y="1475.2" width="22" height="22"/><rect x="1135.8" y="1521.9" width="22" height="22"/><rect x="1145.0" y="1507.7" width="22" height="22"/><rect x="1154.3" y="1388.0" width="22" height="22"/><rect x="1163.5" y="1467.1" width="22" height="22"/><rect x="1172.7" y="1487.4" width="22" height="22"/><rect x="1182.0" y="1432.6" width="22" height="22"/><rect x="1191.2" y="1416.4" width="22" height="22"/><rect x="1200.4" y="1467.1" width="22" height="22"/><rect x="1209.7" y="1369.7" width="22" height="22"/><rect x="1218.9" y="1514.8" width="22" height="22"/><rect x="1228.1" y="1451.9" width="22" height="22"/><rect x="1237.4" y="1501.6" width="22" height="22"/><rect x="1246.6" y="1475.2" width="22" height="22"/><rect x="1255.8" y="1480.3" width="22" height="22"/><rect x="1265.1" y="1440.8" width="22" height="22"/><rect x="1274.3" y="1475.2" width="22" height="22"/><rect x="1283.6" y="1489.4" width="22" height="22"/><rect x="1292.8" y="1398.1" width="22" height="22"/><rect x="1302.0" y="1493.5" width="22" height="22"/><rect x="1311.3" y="1406.3" width="22" height="22"/><rect x="1320.5" y="1468.1" width="22" height="22"/><rect x="1329.7" y="1323.1" width="22" height="22"/><rect x="1339.0" y="1501.6" width="22" height="22"/><rect x="1348.2" y="1448.9" width="22" height="22"/><rect x="1357.4" y="1519.9" width="22" height="22"/><rect x="1366.7" y="1448.9" width="22" height="22"/><rect x="1375.9" y="1457.0" width="22" height="22"/><rect x="1385.1" y="1407.3" width="22" height="22"/><rect x="1394.4" y="1501.6" width="22" height="22"/><rect x="1403.6" y="1416.4" width="22" height="22"/><rect x="1412.8" y="1512.8" width="22" height="22"/><rect x="1422.1" y="1423.5" width="22" height="22"/><rect x="1431.3" y="1400.2" width="22" height="22"/><rect x="1440.5" y="1525.0" width="22" height="22"/><rect x="1449.8" y="1470.2" width="22" height="22"/><rect x="1459.0" y="1484.4" width="22" height="22"/><rect x="1468.3" y="1459.0" width="22" height="22"/><rect x="1477.5" y="1489.4" width="22" height="22"/><rect x="1486.7" y="1519.9" width="22" height="22"/><rect x="1496.0" y="1519.9" width="22" height="22"/><rect x="1505.2" y="1463.1" width="22" height="22"/><rect x="1514.4" y="1442.8" width="22" height="22"/><rect x="1523.7" y="1364.7" width="22" height="22"/><rect x="1532.9" y="1519.9" width="22" height="22"/><rect x="1542.1" y="1332.2" width="22" height="22"/><rect x="1551.4" y="1459.0" width="22" height="22"/><rect x="1560.6" y="1479.3" width="22" height="22"/><rect x="1569.8" y="1523.9" width="22" height="22"/><rect x="1579.1" y="1523.9" width="22" height="22"/><rect x="1588.3" y="1523.9" width="22" height="22"/><rect x="1597.5" y="1484.4" width="22" height="22"/><rect x="1606.8" y="1411.3" width="22" height="22"/><rect x="1616.0" y="1409.3" width="22" height="22"/><rect x="1625.2" y="1409.3" width="22" height="22"/><rect x="1634.5" y="1487.4" width="22" height="22"/><rect x="1643.7" y="1484.4" width="22" height="22"/><rect x="1653.0" y="1439.7" width="22" height="22"/><rect x="1662.2" y="1484.4" width="22" height="22"/><rect x="1671.4" y="1480.3" width="22" height="22"/><rect x="1680.7" y="1382.9" width="22" height="22"/><rect x="1689.9" y="1487.4" width="22" height="22"/><rect x="1699.1" y="1501.6" width="22" height="22"/><rect x="1708.4" y="1430.6" width="22" height="22"/><rect x="1717.6" y="1402.2" width="22" height="22"/><rect x="1726.8" y="1479.3" width="22" height="22"/><rect x="1736.1" y="1484.4" width="22" height="22"/><rect x="1745.3" y="1503.7" width="22" height="22"/><rect x="1754.5" y="1382.9" width="22" height="22"/><rect x="1763.8" y="1459.0" width="22" height="22"/><rect x="1773.0" y="1514.8" width="22" height="22"/><rect x="1782.2" y="1493.5" width="22" height="22"/><rect x="1791.5" y="1515.8" width="22" height="22"/><rect x="1800.7" y="1505.7" width="22" height="22"/><rect x="1809.9" y="1451.9" width="22" height="22"/><rect x="1819.2" y="1493.5" width="22" height="22"/><rect x="1828.4" y="1527.0" width="22" height="22"/><rect x="1837.7" y="1487.4" width="22" height="22"/><rect x="1846.9" y="1525.0" width="22" height="22"/><rect x="1856.1" y="1523.9" width="22" height="22"/><rect x="1865.4" y="1489.4" width="22" height="22"/><rect x="1874.6" y="1501.6" width="22" height="22"/><rect x="1883.8" y="1444.8" width="22" height="22"/><rect x="1893.1" y="1459.0" width="22" height="22"/></g>
<circle cx="260.2" cy="1393.9" r="2" fill="#ffffff"/>
<circle cx="1904.1" cy="1470.0" r="2" fill="#ffffff"/>
<circle cx="492" cy="1517" r="5.5" fill="#8c8c8c" stroke="#ffffff" stroke-width="1.5"/>
<text x="1083.0" y="73.5" font-size="55" text-anchor="middle" fill="#000000" font-family="'Liberation Sans', Arial, Helvetica, sans-serif" >position errors (m)</text>
<rect x="1448" y="26" width="441" height="128" fill="#ffffff"/>
<line x1="1457" y1="64.5" x2="1542" y2="64.5" stroke="#ff0000" stroke-width="9"/><circle cx="1499" cy="64.5" r="12" fill="#ff0000"/>
<line x1="1457" y1="121.5" x2="1542" y2="121.5" stroke="#00ff00" stroke-width="9"/><rect x="1489" y="111" width="21" height="21" fill="#00ff00"/>
<text x="1549.0" y="82.2" font-size="45" text-anchor="start" fill="#000000" font-family="'Liberation Sans', Arial, Helvetica, sans-serif" >UAV01</text>
<text x="1549.0" y="139.0" font-size="45" text-anchor="start" fill="#000000" font-family="'Liberation Sans', Arial, Helvetica, sans-serif" >UAV01-CoVDLL</text>
<text x="1082.5" y="1677.7" font-size="55" text-anchor="middle" fill="#262626" font-family="'Liberation Sans', Arial, Helvetica, sans-serif" >Time (s)</text>
<text x="375" y="1836" font-size="84" fill="#000" font-family="'Liberation Serif', 'Times New Roman', serif" textLength="86" lengthAdjust="spacingAndGlyphs">(<tspan font-weight="bold">a</tspan>)</text>
<text x="491" y="1836" font-size="84" fill="#000" font-family="'Liberation Serif', 'Times New Roman', serif" textLength="1265" lengthAdjust="spacingAndGlyphs">three-axis position errors (UAV01)</text>
<line x1="381.7" y1="1979.4" x2="381.7" y2="3069.6" stroke="#dcdcdc" stroke-width="1.6"/>
<line x1="548.9" y1="1979.4" x2="548.9" y2="3069.6" stroke="#dcdcdc" stroke-width="1.6"/>
<line x1="716.1" y1="1979.4" x2="716.1" y2="3069.6" stroke="#dcdcdc" stroke-width="1.6"/>
<line x1="214.5" y1="2851.6" x2="716.1" y2="2851.6" stroke="#dcdcdc" stroke-width="1.6"/>
<line x1="214.5" y1="2633.5" x2="716.1" y2="2633.5" stroke="#dcdcdc" stroke-width="1.6"/>
<line x1="214.5" y1="2415.5" x2="716.1" y2="2415.5" stroke="#dcdcdc" stroke-width="1.6"/>
<line x1="214.5" y1="2197.4" x2="716.1" y2="2197.4" stroke="#dcdcdc" stroke-width="1.6"/>
<line x1="214.5" y1="1979.4" x2="716.1" y2="1979.4" stroke="#dcdcdc" stroke-width="1.6"/>
<line x1="214.5" y1="1979.4" x2="214.5" y2="3070.6" stroke="#262626" stroke-width="2"/>
<line x1="213.5" y1="3069.6" x2="717.1" y2="3069.6" stroke="#262626" stroke-width="2"/>
<line x1="214.5" y1="3069.6" x2="225.0" y2="3069.6" stroke="#262626" stroke-width="2"/>
<line x1="214.5" y1="2851.6" x2="225.0" y2="2851.6" stroke="#262626" stroke-width="2"/>
<line x1="214.5" y1="2633.5" x2="225.0" y2="2633.5" stroke="#262626" stroke-width="2"/>
<line x1="214.5" y1="2415.5" x2="225.0" y2="2415.5" stroke="#262626" stroke-width="2"/>
<line x1="214.5" y1="2197.4" x2="225.0" y2="2197.4" stroke="#262626" stroke-width="2"/>
<line x1="214.5" y1="1979.4" x2="225.0" y2="1979.4" stroke="#262626" stroke-width="2"/>
<line x1="381.7" y1="3069.6" x2="381.7" y2="3059.1" stroke="#262626" stroke-width="2"/>
<line x1="548.9" y1="3069.6" x2="548.9" y2="3059.1" stroke="#262626" stroke-width="2"/>
<line x1="716.1" y1="3069.6" x2="716.1" y2="3059.1" stroke="#262626" stroke-width="2"/>
<text x="194.5" y="3092.6" font-size="58.5" text-anchor="end" fill="#262626" font-family="'Liberation Sans', Arial, Helvetica, sans-serif" >0</text>
<text x="194.5" y="2874.6" font-size="58.5" text-anchor="end" fill="#262626" font-family="'Liberation Sans', Arial, Helvetica, sans-serif" >0.2</text>
<text x="194.5" y="2656.5" font-size="58.5" text-anchor="end" fill="#262626" font-family="'Liberation Sans', Arial, Helvetica, sans-serif" >0.4</text>
<text x="194.5" y="2438.5" font-size="58.5" text-anchor="end" fill="#262626" font-family="'Liberation Sans', Arial, Helvetica, sans-serif" >0.6</text>
<text x="194.5" y="2220.4" font-size="58.5" text-anchor="end" fill="#262626" font-family="'Liberation Sans', Arial, Helvetica, sans-serif" >0.8</text>
<text x="194.5" y="2002.4" font-size="58.5" text-anchor="end" fill="#262626" font-family="'Liberation Sans', Arial, Helvetica, sans-serif" >1</text>
<text x="214.5" y="3151.6" font-size="58.5" text-anchor="middle" fill="#262626" font-family="'Liberation Sans', Arial, Helvetica, sans-serif" >0</text>
<text x="381.7" y="3151.6" font-size="58.5" text-anchor="middle" fill="#262626" font-family="'Liberation Sans', Arial, Helvetica, sans-serif" >10</text>
<text x="548.9" y="3151.6" font-size="58.5" text-anchor="middle" fill="#262626" font-family="'Liberation Sans', Arial, Helvetica, sans-serif" >20</text>
<text x="716.1" y="3151.6" font-size="58.5" text-anchor="middle" fill="#262626" font-family="'Liberation Sans', Arial, Helvetica, sans-serif" >30</text>
<text x="476.0" y="3219.6" font-size="64.4" text-anchor="middle" fill="#262626" font-family="'Liberation Sans', Arial, Helvetica, sans-serif" >X_axis (m)</text>
<path d="M214.5,3069.6 L214.5,3063.5 L215.3,3063.5 L215.3,3057.4 L216.2,3057.4 L216.2,3051.3 L216.2,3051.3 L216.2,3045.2 L216.2,3045.2 L216.2,3039.1 L217.0,3039.1 L217.0,3033.1 L217.8,3033.1 L217.8,3027.0 L217.8,3027.0 L217.8,3020.9 L217.8,3020.9 L217.8,3014.8 L223.7,3014.8 L223.7,3008.7 L224.5,3008.7 L224.5,3002.6 L227.9,3002.6 L227.9,2996.5 L227.9,2996.5 L227.9,2990.4 L228.7,2990.4 L228.7,2984.3 L229.5,2984.3 L229.5,2978.2 L229.5,2978.2 L229.5,2972.2 L231.2,2972.2 L231.2,2966.1 L231.2,2966.1 L231.2,2960.0 L232.9,2960.0 L232.9,2953.9 L234.6,2953.9 L234.6,2947.8 L234.6,2947.8 L234.6,2941.7 L234.6,2941.7 L234.6,2935.6 L234.6,2935.6 L234.6,2929.5 L234.6,2929.5 L234.6,2923.4 L236.2,2923.4 L236.2,2917.3 L236.2,2917.3 L236.2,2911.2 L236.2,2911.2 L236.2,2905.2 L236.2,2905.2 L236.2,2899.1 L236.2,2899.1 L236.2,2893.0 L236.2,2893.0 L236.2,2886.9 L237.9,2886.9 L237.9,2880.8 L239.6,2880.8 L239.6,2874.7 L239.6,2874.7 L239.6,2868.6 L239.6,2868.6 L239.6,2862.5 L241.3,2862.5 L241.3,2856.4 L241.3,2856.4 L241.3,2850.3 L244.6,2850.3 L244.6,2844.3 L244.6,2844.3 L244.6,2838.2 L244.6,2838.2 L244.6,2832.1 L245.4,2832.1 L245.4,2826.0 L246.3,2826.0 L246.3,2819.9 L246.3,2819.9 L246.3,2813.8 L247.1,2813.8 L247.1,2807.7 L247.9,2807.7 L247.9,2801.6 L247.9,2801.6 L247.9,2795.5 L251.3,2795.5 L251.3,2789.4 L251.3,2789.4 L251.3,2783.3 L251.3,2783.3 L251.3,2777.3 L251.3,2777.3 L251.3,2771.2 L253.0,2771.2 L253.0,2765.1 L254.6,2765.1 L254.6,2759.0 L254.6,2759.0 L254.6,2752.9 L254.6,2752.9 L254.6,2746.8 L254.6,2746.8 L254.6,2740.7 L256.3,2740.7 L256.3,2734.6 L256.3,2734.6 L256.3,2728.5 L258.0,2728.5 L258.0,2722.4 L258.0,2722.4 L258.0,2716.4 L258.0,2716.4 L258.0,2710.3 L258.0,2710.3 L258.0,2704.2 L259.6,2704.2 L259.6,2698.1 L259.6,2698.1 L259.6,2692.0 L261.3,2692.0 L261.3,2685.9 L261.3,2685.9 L261.3,2679.8 L264.7,2679.8 L264.7,2673.7 L266.3,2673.7 L266.3,2667.6 L268.0,2667.6 L268.0,2661.5 L269.7,2661.5 L269.7,2655.4 L271.3,2655.4 L271.3,2649.4 L273.0,2649.4 L273.0,2643.3 L274.7,2643.3 L274.7,2637.2 L274.7,2637.2 L274.7,2631.1 L274.7,2631.1 L274.7,2625.0 L278.0,2625.0 L278.0,2618.9 L278.0,2618.9 L278.0,2612.8 L279.7,2612.8 L279.7,2606.7 L281.4,2606.7 L281.4,2600.6 L281.4,2600.6 L281.4,2594.5 L281.4,2594.5 L281.4,2588.5 L281.4,2588.5 L281.4,2582.4 L283.1,2582.4 L283.1,2576.3 L284.7,2576.3 L284.7,2570.2 L286.4,2570.2 L286.4,2564.1 L291.4,2564.1 L291.4,2558.0 L291.4,2558.0 L291.4,2551.9 L294.8,2551.9 L294.8,2545.8 L294.8,2545.8 L294.8,2539.7 L294.8,2539.7 L294.8,2533.6 L296.4,2533.6 L296.4,2527.5 L296.4,2527.5 L296.4,2521.5 L296.4,2521.5 L296.4,2515.4 L298.1,2515.4 L298.1,2509.3 L298.1,2509.3 L298.1,2503.2 L298.1,2503.2 L298.1,2497.1 L301.4,2497.1 L301.4,2491.0 L301.4,2491.0 L301.4,2484.9 L301.4,2484.9 L301.4,2478.8 L303.1,2478.8 L303.1,2472.7 L304.0,2472.7 L304.0,2466.6 L304.8,2466.6 L304.8,2460.5 L308.1,2460.5 L308.1,2454.5 L309.8,2454.5 L309.8,2448.4 L309.8,2448.4 L309.8,2442.3 L311.5,2442.3 L311.5,2436.2 L313.1,2436.2 L313.1,2430.1 L313.1,2430.1 L313.1,2424.0 L314.8,2424.0 L314.8,2417.9 L315.7,2417.9 L315.7,2411.8 L318.2,2411.8 L318.2,2405.7 L318.2,2405.7 L318.2,2399.6 L318.2,2399.6 L318.2,2393.6 L319.8,2393.6 L319.8,2387.5 L321.5,2387.5 L321.5,2381.4 L321.5,2381.4 L321.5,2375.3 L321.5,2375.3 L321.5,2369.2 L323.2,2369.2 L323.2,2363.1 L323.2,2363.1 L323.2,2357.0 L324.9,2357.0 L324.9,2350.9 L324.9,2350.9 L324.9,2344.8 L324.9,2344.8 L324.9,2338.7 L324.9,2338.7 L324.9,2332.6 L326.5,2332.6 L326.5,2326.6 L327.4,2326.6 L327.4,2320.5 L329.0,2320.5 L329.0,2314.4 L329.9,2314.4 L329.9,2308.3 L329.9,2308.3 L329.9,2302.2 L329.9,2302.2 L329.9,2296.1 L329.9,2296.1 L329.9,2290.0 L329.9,2290.0 L329.9,2283.9 L331.5,2283.9 L331.5,2277.8 L332.4,2277.8 L332.4,2271.7 L333.2,2271.7 L333.2,2265.7 L334.9,2265.7 L334.9,2259.6 L338.2,2259.6 L338.2,2253.5 L339.9,2253.5 L339.9,2247.4 L339.9,2247.4 L339.9,2241.3 L341.6,2241.3 L341.6,2235.2 L344.9,2235.2 L344.9,2229.1 L348.3,2229.1 L348.3,2223.0 L348.3,2223.0 L348.3,2216.9 L349.9,2216.9 L349.9,2210.8 L351.6,2210.8 L351.6,2204.7 L351.6,2204.7 L351.6,2198.7 L354.9,2198.7 L354.9,2192.6 L354.9,2192.6 L354.9,2186.5 L364.1,2186.5 L364.1,2180.4 L365.0,2180.4 L365.0,2174.3 L368.3,2174.3 L368.3,2168.2 L370.0,2168.2 L370.0,2162.1 L370.8,2162.1 L370.8,2156.0 L371.7,2156.0 L371.7,2149.9 L373.3,2149.9 L373.3,2143.8 L375.8,2143.8 L375.8,2137.8 L376.7,2137.8 L376.7,2131.7 L385.0,2131.7 L385.0,2125.6 L385.9,2125.6 L385.9,2119.5 L386.7,2119.5 L386.7,2113.4 L390.1,2113.4 L390.1,2107.3 L398.4,2107.3 L398.4,2101.2 L399.3,2101.2 L399.3,2095.1 L400.1,2095.1 L400.1,2089.0 L405.1,2089.0 L405.1,2082.9 L409.3,2082.9 L409.3,2076.8 L410.1,2076.8 L410.1,2070.8 L411.8,2070.8 L411.8,2064.7 L417.6,2064.7 L417.6,2058.6 L418.5,2058.6 L418.5,2052.5 L427.7,2052.5 L427.7,2046.4 L428.5,2046.4 L428.5,2040.3 L430.2,2040.3 L430.2,2034.2 L433.5,2034.2 L433.5,2028.1 L435.2,2028.1 L435.2,2022.0 L445.2,2022.0 L445.2,2015.9 L450.3,2015.9 L450.3,2009.9 L455.3,2009.9 L455.3,2003.8 L455.3,2003.8 L455.3,1997.7 L459.4,1997.7 L459.4,1991.6 L467.0,1991.6 L467.0,1985.5 L505.4,1985.5 L505.4,1979.4" fill="none" stroke="#0072bd" stroke-width="10" stroke-linejoin="round"/>
<path d="M214.5,3069.6 L214.5,3063.5 L214.5,3063.5 L214.5,3057.4 L215.3,3057.4 L215.3,3051.3 L216.2,3051.3 L216.2,3045.2 L216.2,3045.2 L216.2,3039.1 L217.8,3039.1 L217.8,3033.1 L217.8,3033.1 L217.8,3027.0 L217.8,3027.0 L217.8,3020.9 L217.8,3020.9 L217.8,3014.8 L217.8,3014.8 L217.8,3008.7 L217.8,3008.7 L217.8,3002.6 L217.8,3002.6 L217.8,2996.5 L217.8,2996.5 L217.8,2990.4 L219.5,2990.4 L219.5,2984.3 L220.4,2984.3 L220.4,2978.2 L221.2,2978.2 L221.2,2972.2 L221.2,2972.2 L221.2,2966.1 L222.0,2966.1 L222.0,2960.0 L222.0,2960.0 L222.0,2953.9 L222.0,2953.9 L222.0,2947.8 L222.0,2947.8 L222.0,2941.7 L222.9,2941.7 L222.9,2935.6 L222.9,2935.6 L222.9,2929.5 L223.7,2929.5 L223.7,2923.4 L223.7,2923.4 L223.7,2917.3 L223.7,2917.3 L223.7,2911.2 L223.7,2911.2 L223.7,2905.2 L223.7,2905.2 L223.7,2899.1 L224.5,2899.1 L224.5,2893.0 L224.5,2893.0 L224.5,2886.9 L224.5,2886.9 L224.5,2880.8 L224.5,2880.8 L224.5,2874.7 L224.5,2874.7 L224.5,2868.6 L224.5,2868.6 L224.5,2862.5 L224.5,2862.5 L224.5,2856.4 L226.2,2856.4 L226.2,2850.3 L226.2,2850.3 L226.2,2844.3 L227.9,2844.3 L227.9,2838.2 L227.9,2838.2 L227.9,2832.1 L227.9,2832.1 L227.9,2826.0 L229.5,2826.0 L229.5,2819.9 L231.2,2819.9 L231.2,2813.8 L233.7,2813.8 L233.7,2807.7 L236.2,2807.7 L236.2,2801.6 L236.2,2801.6 L236.2,2795.5 L236.2,2795.5 L236.2,2789.4 L236.2,2789.4 L236.2,2783.3 L236.2,2783.3 L236.2,2777.3 L237.9,2777.3 L237.9,2771.2 L237.9,2771.2 L237.9,2765.1 L239.6,2765.1 L239.6,2759.0 L239.6,2759.0 L239.6,2752.9 L239.6,2752.9 L239.6,2746.8 L239.6,2746.8 L239.6,2740.7 L241.3,2740.7 L241.3,2734.6 L242.9,2734.6 L242.9,2728.5 L242.9,2728.5 L242.9,2722.4 L242.9,2722.4 L242.9,2716.4 L242.9,2716.4 L242.9,2710.3 L243.8,2710.3 L243.8,2704.2 L245.4,2704.2 L245.4,2698.1 L245.4,2698.1 L245.4,2692.0 L245.4,2692.0 L245.4,2685.9 L246.3,2685.9 L246.3,2679.8 L246.3,2679.8 L246.3,2673.7 L247.1,2673.7 L247.1,2667.6 L247.9,2667.6 L247.9,2661.5 L247.9,2661.5 L247.9,2655.4 L247.9,2655.4 L247.9,2649.4 L247.9,2649.4 L247.9,2643.3 L247.9,2643.3 L247.9,2637.2 L249.6,2637.2 L249.6,2631.1 L249.6,2631.1 L249.6,2625.0 L249.6,2625.0 L249.6,2618.9 L249.6,2618.9 L249.6,2612.8 L251.3,2612.8 L251.3,2606.7 L251.3,2606.7 L251.3,2600.6 L251.3,2600.6 L251.3,2594.5 L251.3,2594.5 L251.3,2588.5 L251.3,2588.5 L251.3,2582.4 L251.3,2582.4 L251.3,2576.3 L254.6,2576.3 L254.6,2570.2 L254.6,2570.2 L254.6,2564.1 L256.3,2564.1 L256.3,2558.0 L256.3,2558.0 L256.3,2551.9 L256.3,2551.9 L256.3,2545.8 L257.1,2545.8 L257.1,2539.7 L257.1,2539.7 L257.1,2533.6 L257.1,2533.6 L257.1,2527.5 L258.0,2527.5 L258.0,2521.5 L258.0,2521.5 L258.0,2515.4 L259.6,2515.4 L259.6,2509.3 L261.3,2509.3 L261.3,2503.2 L263.0,2503.2 L263.0,2497.1 L263.0,2497.1 L263.0,2491.0 L263.0,2491.0 L263.0,2484.9 L264.7,2484.9 L264.7,2478.8 L264.7,2478.8 L264.7,2472.7 L264.7,2472.7 L264.7,2466.6 L266.3,2466.6 L266.3,2460.5 L266.3,2460.5 L266.3,2454.5 L266.3,2454.5 L266.3,2448.4 L266.3,2448.4 L266.3,2442.3 L266.3,2442.3 L266.3,2436.2 L268.0,2436.2 L268.0,2430.1 L268.0,2430.1 L268.0,2424.0 L268.0,2424.0 L268.0,2417.9 L268.0,2417.9 L268.0,2411.8 L268.8,2411.8 L268.8,2405.7 L268.8,2405.7 L268.8,2399.6 L268.8,2399.6 L268.8,2393.6 L269.7,2393.6 L269.7,2387.5 L271.3,2387.5 L271.3,2381.4 L271.3,2381.4 L271.3,2375.3 L271.3,2375.3 L271.3,2369.2 L271.3,2369.2 L271.3,2363.1 L271.3,2363.1 L271.3,2357.0 L271.3,2357.0 L271.3,2350.9 L271.3,2350.9 L271.3,2344.8 L271.3,2344.8 L271.3,2338.7 L273.0,2338.7 L273.0,2332.6 L273.0,2332.6 L273.0,2326.6 L274.7,2326.6 L274.7,2320.5 L276.4,2320.5 L276.4,2314.4 L276.4,2314.4 L276.4,2308.3 L278.0,2308.3 L278.0,2302.2 L278.0,2302.2 L278.0,2296.1 L281.4,2296.1 L281.4,2290.0 L281.4,2290.0 L281.4,2283.9 L283.1,2283.9 L283.1,2277.8 L283.1,2277.8 L283.1,2271.7 L283.1,2271.7 L283.1,2265.7 L283.1,2265.7 L283.1,2259.6 L283.1,2259.6 L283.1,2253.5 L283.1,2253.5 L283.1,2247.4 L283.1,2247.4 L283.1,2241.3 L284.7,2241.3 L284.7,2235.2 L284.7,2235.2 L284.7,2229.1 L284.7,2229.1 L284.7,2223.0 L284.7,2223.0 L284.7,2216.9 L286.4,2216.9 L286.4,2210.8 L286.4,2210.8 L286.4,2204.7 L289.7,2204.7 L289.7,2198.7 L291.4,2198.7 L291.4,2192.6 L291.4,2192.6 L291.4,2186.5 L291.4,2186.5 L291.4,2180.4 L293.1,2180.4 L293.1,2174.3 L294.8,2174.3 L294.8,2168.2 L294.8,2168.2 L294.8,2162.1 L296.4,2162.1 L296.4,2156.0 L296.4,2156.0 L296.4,2149.9 L296.4,2149.9 L296.4,2143.8 L301.4,2143.8 L301.4,2137.8 L301.4,2137.8 L301.4,2131.7 L303.1,2131.7 L303.1,2125.6 L304.0,2125.6 L304.0,2119.5 L304.0,2119.5 L304.0,2113.4 L304.8,2113.4 L304.8,2107.3 L304.8,2107.3 L304.8,2101.2 L309.8,2101.2 L309.8,2095.1 L311.5,2095.1 L311.5,2089.0 L313.1,2089.0 L313.1,2082.9 L315.7,2082.9 L315.7,2076.8 L318.2,2076.8 L318.2,2070.8 L318.2,2070.8 L318.2,2064.7 L323.2,2064.7 L323.2,2058.6 L324.9,2058.6 L324.9,2052.5 L324.9,2052.5 L324.9,2046.4 L329.9,2046.4 L329.9,2040.3 L331.5,2040.3 L331.5,2034.2 L339.9,2034.2 L339.9,2028.1 L341.6,2028.1 L341.6,2022.0 L360.0,2022.0 L360.0,2015.9 L361.6,2015.9 L361.6,2009.9 L363.3,2009.9 L363.3,2003.8 L370.0,2003.8 L370.0,1997.7 L376.7,1997.7 L376.7,1991.6 L395.1,1991.6 L395.1,1985.5 L436.9,1985.5 L436.9,1979.4" fill="none" stroke="#d95319" stroke-width="10" stroke-linejoin="round"/>
<line x1="1034.5" y1="1974.2" x2="1034.5" y2="3069.4" stroke="#dcdcdc" stroke-width="1.6"/>
<line x1="1207.7" y1="1974.2" x2="1207.7" y2="3069.4" stroke="#dcdcdc" stroke-width="1.6"/>
<line x1="1380.9" y1="1974.2" x2="1380.9" y2="3069.4" stroke="#dcdcdc" stroke-width="1.6"/>
<line x1="861.3" y1="2851.6" x2="1380.9" y2="2851.6" stroke="#dcdcdc" stroke-width="1.6"/>
<line x1="861.3" y1="2633.8" x2="1380.9" y2="2633.8" stroke="#dcdcdc" stroke-width="1.6"/>
<line x1="861.3" y1="2416.0" x2="1380.9" y2="2416.0" stroke="#dcdcdc" stroke-width="1.6"/>
<line x1="861.3" y1="2198.2" x2="1380.9" y2="2198.2" stroke="#dcdcdc" stroke-width="1.6"/>
<line x1="861.3" y1="1974.2" x2="861.3" y2="3070.4" stroke="#262626" stroke-width="2"/>
<line x1="860.3" y1="3069.4" x2="1381.9" y2="3069.4" stroke="#262626" stroke-width="2"/>
<line x1="861.3" y1="3069.4" x2="871.8" y2="3069.4" stroke="#262626" stroke-width="2"/>
<line x1="861.3" y1="2851.6" x2="871.8" y2="2851.6" stroke="#262626" stroke-width="2"/>
<line x1="861.3" y1="2633.8" x2="871.8" y2="2633.8" stroke="#262626" stroke-width="2"/>
<line x1="861.3" y1="2416.0" x2="871.8" y2="2416.0" stroke="#262626" stroke-width="2"/>
<line x1="861.3" y1="2198.2" x2="871.8" y2="2198.2" stroke="#262626" stroke-width="2"/>
<line x1="1034.5" y1="3069.4" x2="1034.5" y2="3058.9" stroke="#262626" stroke-width="2"/>
<line x1="1207.7" y1="3069.4" x2="1207.7" y2="3058.9" stroke="#262626" stroke-width="2"/>
<line x1="1380.9" y1="3069.4" x2="1380.9" y2="3058.9" stroke="#262626" stroke-width="2"/>
<text x="841.3" y="3092.4" font-size="58.5" text-anchor="end" fill="#262626" font-family="'Liberation Sans', Arial, Helvetica, sans-serif" >0</text>
<text x="841.3" y="2874.6" font-size="58.5" text-anchor="end" fill="#262626" font-family="'Liberation Sans', Arial, Helvetica, sans-serif" >0.2</text>
<text x="841.3" y="2656.8" font-size="58.5" text-anchor="end" fill="#262626" font-family="'Liberation Sans', Arial, Helvetica, sans-serif" >0.4</text>
<text x="841.3" y="2439.0" font-size="58.5" text-anchor="end" fill="#262626" font-family="'Liberation Sans', Arial, Helvetica, sans-serif" >0.6</text>
<text x="841.3" y="2221.2" font-size="58.5" text-anchor="end" fill="#262626" font-family="'Liberation Sans', Arial, Helvetica, sans-serif" >0.8</text>
<text x="861.3" y="3151.4" font-size="58.5" text-anchor="middle" fill="#262626" font-family="'Liberation Sans', Arial, Helvetica, sans-serif" >0</text>
<text x="1034.5" y="3151.4" font-size="58.5" text-anchor="middle" fill="#262626" font-family="'Liberation Sans', Arial, Helvetica, sans-serif" >10</text>
<text x="1207.7" y="3151.4" font-size="58.5" text-anchor="middle" fill="#262626" font-family="'Liberation Sans', Arial, Helvetica, sans-serif" >20</text>
<text x="1380.9" y="3151.4" font-size="58.5" text-anchor="middle" fill="#262626" font-family="'Liberation Sans', Arial, Helvetica, sans-serif" >30</text>
<text x="1147.0" y="3219.4" font-size="64.4" text-anchor="middle" fill="#262626" font-family="'Liberation Sans', Arial, Helvetica, sans-serif" >Y_axis (m)</text>
<path d="M861.3,3069.4 L861.3,3063.3 L861.3,3063.3 L861.3,3057.2 L862.2,3057.2 L862.2,3051.1 L862.2,3051.1 L862.2,3045.1 L863.9,3045.1 L863.9,3039.0 L863.9,3039.0 L863.9,3032.9 L863.9,3032.9 L863.9,3026.8 L865.6,3026.8 L865.6,3020.7 L867.0,3020.7 L867.0,3014.6 L868.2,3014.6 L868.2,3008.6 L868.2,3008.6 L868.2,3002.5 L869.1,3002.5 L869.1,2996.4 L870.0,2996.4 L870.0,2990.3 L870.0,2990.3 L870.0,2984.2 L870.0,2984.2 L870.0,2978.1 L871.7,2978.1 L871.7,2972.1 L871.7,2972.1 L871.7,2966.0 L871.7,2966.0 L871.7,2959.9 L871.7,2959.9 L871.7,2953.8 L876.9,2953.8 L876.9,2947.7 L880.4,2947.7 L880.4,2941.6 L880.4,2941.6 L880.4,2935.6 L882.1,2935.6 L882.1,2929.5 L882.1,2929.5 L882.1,2923.4 L885.5,2923.4 L885.5,2917.3 L885.5,2917.3 L885.5,2911.2 L885.5,2911.2 L885.5,2905.1 L887.3,2905.1 L887.3,2899.1 L889.0,2899.1 L889.0,2893.0 L889.0,2893.0 L889.0,2886.9 L889.0,2886.9 L889.0,2880.8 L889.9,2880.8 L889.9,2874.7 L893.3,2874.7 L893.3,2868.6 L893.3,2868.6 L893.3,2862.6 L893.3,2862.6 L893.3,2856.5 L895.9,2856.5 L895.9,2850.4 L895.9,2850.4 L895.9,2844.3 L896.8,2844.3 L896.8,2838.2 L900.3,2838.2 L900.3,2832.1 L902.0,2832.1 L902.0,2826.0 L903.7,2826.0 L903.7,2820.0 L904.6,2820.0 L904.6,2813.9 L908.1,2813.9 L908.1,2807.8 L909.8,2807.8 L909.8,2801.7 L909.8,2801.7 L909.8,2795.6 L911.5,2795.6 L911.5,2789.5 L913.3,2789.5 L913.3,2783.5 L913.3,2783.5 L913.3,2777.4 L913.3,2777.4 L913.3,2771.3 L918.5,2771.3 L918.5,2765.2 L920.2,2765.2 L920.2,2759.1 L920.2,2759.1 L920.2,2753.0 L920.2,2753.0 L920.2,2747.0 L921.9,2747.0 L921.9,2740.9 L921.9,2740.9 L921.9,2734.8 L921.9,2734.8 L921.9,2728.7 L923.7,2728.7 L923.7,2722.6 L925.4,2722.6 L925.4,2716.5 L927.1,2716.5 L927.1,2710.5 L927.1,2710.5 L927.1,2704.4 L932.3,2704.4 L932.3,2698.3 L932.3,2698.3 L932.3,2692.2 L935.8,2692.2 L935.8,2686.1 L935.8,2686.1 L935.8,2680.0 L935.8,2680.0 L935.8,2674.0 L935.8,2674.0 L935.8,2667.9 L935.8,2667.9 L935.8,2661.8 L939.2,2661.8 L939.2,2655.7 L939.2,2655.7 L939.2,2649.6 L939.2,2649.6 L939.2,2643.5 L943.6,2643.5 L943.6,2637.5 L943.6,2637.5 L943.6,2631.4 L943.6,2631.4 L943.6,2625.3 L943.6,2625.3 L943.6,2619.2 L943.6,2619.2 L943.6,2613.1 L943.6,2613.1 L943.6,2607.0 L945.3,2607.0 L945.3,2600.9 L947.0,2600.9 L947.0,2594.9 L947.0,2594.9 L947.0,2588.8 L947.9,2588.8 L947.9,2582.7 L951.4,2582.7 L951.4,2576.6 L951.4,2576.6 L951.4,2570.5 L953.1,2570.5 L953.1,2564.4 L954.8,2564.4 L954.8,2558.4 L956.6,2558.4 L956.6,2552.3 L958.3,2552.3 L958.3,2546.2 L958.3,2546.2 L958.3,2540.1 L958.3,2540.1 L958.3,2534.0 L958.3,2534.0 L958.3,2527.9 L958.3,2527.9 L958.3,2521.9 L960.0,2521.9 L960.0,2515.8 L960.0,2515.8 L960.0,2509.7 L960.0,2509.7 L960.0,2503.6 L961.8,2503.6 L961.8,2497.5 L965.2,2497.5 L965.2,2491.4 L967.0,2491.4 L967.0,2485.4 L968.7,2485.4 L968.7,2479.3 L968.7,2479.3 L968.7,2473.2 L968.7,2473.2 L968.7,2467.1 L977.3,2467.1 L977.3,2461.0 L977.3,2461.0 L977.3,2454.9 L978.2,2454.9 L978.2,2448.9 L979.1,2448.9 L979.1,2442.8 L979.9,2442.8 L979.9,2436.7 L981.7,2436.7 L981.7,2430.6 L981.7,2430.6 L981.7,2424.5 L982.5,2424.5 L982.5,2418.4 L985.1,2418.4 L985.1,2412.3 L986.9,2412.3 L986.9,2406.3 L986.9,2406.3 L986.9,2400.2 L989.5,2400.2 L989.5,2394.1 L990.3,2394.1 L990.3,2388.0 L991.2,2388.0 L991.2,2381.9 L991.2,2381.9 L991.2,2375.8 L991.2,2375.8 L991.2,2369.8 L991.2,2369.8 L991.2,2363.7 L992.9,2363.7 L992.9,2357.6 L994.7,2357.6 L994.7,2351.5 L994.7,2351.5 L994.7,2345.4 L996.4,2345.4 L996.4,2339.3 L996.4,2339.3 L996.4,2333.3 L1001.6,2333.3 L1001.6,2327.2 L1005.1,2327.2 L1005.1,2321.1 L1005.1,2321.1 L1005.1,2315.0 L1005.1,2315.0 L1005.1,2308.9 L1006.8,2308.9 L1006.8,2302.8 L1006.8,2302.8 L1006.8,2296.8 L1006.8,2296.8 L1006.8,2290.7 L1008.5,2290.7 L1008.5,2284.6 L1018.0,2284.6 L1018.0,2278.5 L1018.0,2278.5 L1018.0,2272.4 L1029.3,2272.4 L1029.3,2266.3 L1029.3,2266.3 L1029.3,2260.3 L1031.0,2260.3 L1031.0,2254.2 L1031.9,2254.2 L1031.9,2248.1 L1039.7,2248.1 L1039.7,2242.0 L1043.2,2242.0 L1043.2,2235.9 L1044.9,2235.9 L1044.9,2229.8 L1044.9,2229.8 L1044.9,2223.8 L1050.1,2223.8 L1050.1,2217.7 L1050.1,2217.7 L1050.1,2211.6 L1050.1,2211.6 L1050.1,2205.5 L1051.8,2205.5 L1051.8,2199.4 L1061.3,2199.4 L1061.3,2193.3 L1066.5,2193.3 L1066.5,2187.2 L1070.0,2187.2 L1070.0,2181.2 L1070.9,2181.2 L1070.9,2175.1 L1070.9,2175.1 L1070.9,2169.0 L1074.3,2169.0 L1074.3,2162.9 L1076.1,2162.9 L1076.1,2156.8 L1081.3,2156.8 L1081.3,2150.7 L1084.7,2150.7 L1084.7,2144.7 L1086.5,2144.7 L1086.5,2138.6 L1086.5,2138.6 L1086.5,2132.5 L1093.4,2132.5 L1093.4,2126.4 L1098.6,2126.4 L1098.6,2120.3 L1100.3,2120.3 L1100.3,2114.2 L1108.1,2114.2 L1108.1,2108.2 L1117.6,2108.2 L1117.6,2102.1 L1117.6,2102.1 L1117.6,2096.0 L1122.0,2096.0 L1122.0,2089.9 L1127.2,2089.9 L1127.2,2083.8 L1135.0,2083.8 L1135.0,2077.7 L1135.0,2077.7 L1135.0,2071.7 L1146.2,2071.7 L1146.2,2065.6 L1152.3,2065.6 L1152.3,2059.5 L1160.9,2059.5 L1160.9,2053.4 L1162.7,2053.4 L1162.7,2047.3 L1167.0,2047.3 L1167.0,2041.2 L1174.8,2041.2 L1174.8,2035.2 L1184.3,2035.2 L1184.3,2029.1 L1187.8,2029.1 L1187.8,2023.0 L1192.1,2023.0 L1192.1,2016.9 L1192.1,2016.9 L1192.1,2010.8 L1197.3,2010.8 L1197.3,2004.7 L1212.0,2004.7 L1212.0,1998.7 L1237.1,1998.7 L1237.1,1992.6 L1238.9,1992.6 L1238.9,1986.5 L1240.6,1986.5 L1240.6,1980.4" fill="none" stroke="#0072bd" stroke-width="10" stroke-linejoin="round"/>
<path d="M861.3,3069.4 L861.3,3063.3 L861.3,3063.3 L861.3,3057.2 L861.3,3057.2 L861.3,3051.1 L862.2,3051.1 L862.2,3045.1 L862.2,3045.1 L862.2,3039.0 L863.9,3039.0 L863.9,3032.9 L863.9,3032.9 L863.9,3026.8 L864.8,3026.8 L864.8,3020.7 L865.6,3020.7 L865.6,3014.6 L867.4,3014.6 L867.4,3008.6 L867.4,3008.6 L867.4,3002.5 L868.2,3002.5 L868.2,2996.4 L868.2,2996.4 L868.2,2990.3 L868.2,2990.3 L868.2,2984.2 L868.2,2984.2 L868.2,2978.1 L870.0,2978.1 L870.0,2972.1 L870.0,2972.1 L870.0,2966.0 L870.0,2966.0 L870.0,2959.9 L870.8,2959.9 L870.8,2953.8 L871.7,2953.8 L871.7,2947.7 L873.4,2947.7 L873.4,2941.6 L873.4,2941.6 L873.4,2935.6 L873.4,2935.6 L873.4,2929.5 L873.4,2929.5 L873.4,2923.4 L875.2,2923.4 L875.2,2917.3 L876.9,2917.3 L876.9,2911.2 L876.9,2911.2 L876.9,2905.1 L876.9,2905.1 L876.9,2899.1 L876.9,2899.1 L876.9,2893.0 L876.9,2893.0 L876.9,2886.9 L876.9,2886.9 L876.9,2880.8 L880.4,2880.8 L880.4,2874.7 L880.4,2874.7 L880.4,2868.6 L880.4,2868.6 L880.4,2862.6 L880.4,2862.6 L880.4,2856.5 L882.1,2856.5 L882.1,2850.4 L882.1,2850.4 L882.1,2844.3 L883.8,2844.3 L883.8,2838.2 L885.5,2838.2 L885.5,2832.1 L885.5,2832.1 L885.5,2826.0 L885.5,2826.0 L885.5,2820.0 L885.5,2820.0 L885.5,2813.9 L885.5,2813.9 L885.5,2807.8 L885.5,2807.8 L885.5,2801.7 L885.5,2801.7 L885.5,2795.6 L887.3,2795.6 L887.3,2789.5 L887.3,2789.5 L887.3,2783.5 L889.0,2783.5 L889.0,2777.4 L889.9,2777.4 L889.9,2771.3 L891.6,2771.3 L891.6,2765.2 L891.6,2765.2 L891.6,2759.1 L893.3,2759.1 L893.3,2753.0 L893.3,2753.0 L893.3,2747.0 L895.1,2747.0 L895.1,2740.9 L895.9,2740.9 L895.9,2734.8 L896.8,2734.8 L896.8,2728.7 L896.8,2728.7 L896.8,2722.6 L896.8,2722.6 L896.8,2716.5 L896.8,2716.5 L896.8,2710.5 L896.8,2710.5 L896.8,2704.4 L900.3,2704.4 L900.3,2698.3 L900.3,2698.3 L900.3,2692.2 L900.3,2692.2 L900.3,2686.1 L900.3,2686.1 L900.3,2680.0 L902.0,2680.0 L902.0,2674.0 L903.7,2674.0 L903.7,2667.9 L903.7,2667.9 L903.7,2661.8 L906.3,2661.8 L906.3,2655.7 L907.2,2655.7 L907.2,2649.6 L907.2,2649.6 L907.2,2643.5 L908.1,2643.5 L908.1,2637.5 L908.1,2637.5 L908.1,2631.4 L908.1,2631.4 L908.1,2625.3 L908.1,2625.3 L908.1,2619.2 L908.1,2619.2 L908.1,2613.1 L908.1,2613.1 L908.1,2607.0 L908.1,2607.0 L908.1,2600.9 L908.1,2600.9 L908.1,2594.9 L909.8,2594.9 L909.8,2588.8 L909.8,2588.8 L909.8,2582.7 L909.8,2582.7 L909.8,2576.6 L909.8,2576.6 L909.8,2570.5 L909.8,2570.5 L909.8,2564.4 L913.3,2564.4 L913.3,2558.4 L913.3,2558.4 L913.3,2552.3 L913.3,2552.3 L913.3,2546.2 L913.3,2546.2 L913.3,2540.1 L913.3,2540.1 L913.3,2534.0 L913.3,2534.0 L913.3,2527.9 L913.3,2527.9 L913.3,2521.9 L916.7,2521.9 L916.7,2515.8 L916.7,2515.8 L916.7,2509.7 L916.7,2509.7 L916.7,2503.6 L916.7,2503.6 L916.7,2497.5 L916.7,2497.5 L916.7,2491.4 L920.2,2491.4 L920.2,2485.4 L920.2,2485.4 L920.2,2479.3 L920.2,2479.3 L920.2,2473.2 L920.2,2473.2 L920.2,2467.1 L925.4,2467.1 L925.4,2461.0 L927.1,2461.0 L927.1,2454.9 L927.1,2454.9 L927.1,2448.9 L927.1,2448.9 L927.1,2442.8 L927.1,2442.8 L927.1,2436.7 L928.8,2436.7 L928.8,2430.6 L930.6,2430.6 L930.6,2424.5 L931.4,2424.5 L931.4,2418.4 L931.4,2418.4 L931.4,2412.3 L932.3,2412.3 L932.3,2406.3 L933.2,2406.3 L933.2,2400.2 L934.0,2400.2 L934.0,2394.1 L934.9,2394.1 L934.9,2388.0 L936.6,2388.0 L936.6,2381.9 L940.1,2381.9 L940.1,2375.8 L941.0,2375.8 L941.0,2369.8 L941.8,2369.8 L941.8,2363.7 L941.8,2363.7 L941.8,2357.6 L941.8,2357.6 L941.8,2351.5 L943.6,2351.5 L943.6,2345.4 L946.2,2345.4 L946.2,2339.3 L947.9,2339.3 L947.9,2333.3 L947.9,2333.3 L947.9,2327.2 L949.6,2327.2 L949.6,2321.1 L949.6,2321.1 L949.6,2315.0 L951.4,2315.0 L951.4,2308.9 L951.4,2308.9 L951.4,2302.8 L953.1,2302.8 L953.1,2296.8 L954.8,2296.8 L954.8,2290.7 L954.8,2290.7 L954.8,2284.6 L954.8,2284.6 L954.8,2278.5 L954.8,2278.5 L954.8,2272.4 L956.6,2272.4 L956.6,2266.3 L958.3,2266.3 L958.3,2260.3 L960.0,2260.3 L960.0,2254.2 L960.0,2254.2 L960.0,2248.1 L960.0,2248.1 L960.0,2242.0 L960.0,2242.0 L960.0,2235.9 L960.0,2235.9 L960.0,2229.8 L961.8,2229.8 L961.8,2223.8 L961.8,2223.8 L961.8,2217.7 L965.2,2217.7 L965.2,2211.6 L965.2,2211.6 L965.2,2205.5 L968.7,2205.5 L968.7,2199.4 L968.7,2199.4 L968.7,2193.3 L970.4,2193.3 L970.4,2187.2 L972.1,2187.2 L972.1,2181.2 L972.1,2181.2 L972.1,2175.1 L974.7,2175.1 L974.7,2169.0 L978.2,2169.0 L978.2,2162.9 L979.1,2162.9 L979.1,2156.8 L979.9,2156.8 L979.9,2150.7 L981.7,2150.7 L981.7,2144.7 L986.9,2144.7 L986.9,2138.6 L990.3,2138.6 L990.3,2132.5 L990.3,2132.5 L990.3,2126.4 L990.3,2126.4 L990.3,2120.3 L991.2,2120.3 L991.2,2114.2 L993.8,2114.2 L993.8,2108.2 L994.7,2108.2 L994.7,2102.1 L994.7,2102.1 L994.7,2096.0 L996.4,2096.0 L996.4,2089.9 L1001.6,2089.9 L1001.6,2083.8 L1005.1,2083.8 L1005.1,2077.7 L1010.3,2077.7 L1010.3,2071.7 L1010.3,2071.7 L1010.3,2065.6 L1012.0,2065.6 L1012.0,2059.5 L1013.7,2059.5 L1013.7,2053.4 L1013.7,2053.4 L1013.7,2047.3 L1018.0,2047.3 L1018.0,2041.2 L1019.8,2041.2 L1019.8,2035.2 L1025.0,2035.2 L1025.0,2029.1 L1028.4,2029.1 L1028.4,2023.0 L1030.2,2023.0 L1030.2,2016.9 L1043.2,2016.9 L1043.2,2010.8 L1064.8,2010.8 L1064.8,2004.7 L1074.3,2004.7 L1074.3,1998.7 L1074.3,1998.7 L1074.3,1992.6 L1082.1,1992.6 L1082.1,1986.5 L1104.6,1986.5 L1104.6,1980.4" fill="none" stroke="#d95319" stroke-width="10" stroke-linejoin="round"/>
<line x1="1671.8" y1="1973.9" x2="1671.8" y2="3072.7" stroke="#dcdcdc" stroke-width="1.6"/>
<line x1="1847.6" y1="1973.9" x2="1847.6" y2="3072.7" stroke="#dcdcdc" stroke-width="1.6"/>
<line x1="2023.4" y1="1973.9" x2="2023.4" y2="3072.7" stroke="#dcdcdc" stroke-width="1.6"/>
<line x1="1496.0" y1="2852.9" x2="2023.4" y2="2852.9" stroke="#dcdcdc" stroke-width="1.6"/>
<line x1="1496.0" y1="2633.2" x2="2023.4" y2="2633.2" stroke="#dcdcdc" stroke-width="1.6"/>
<line x1="1496.0" y1="2413.4" x2="2023.4" y2="2413.4" stroke="#dcdcdc" stroke-width="1.6"/>
<line x1="1496.0" y1="2193.7" x2="2023.4" y2="2193.7" stroke="#dcdcdc" stroke-width="1.6"/>
<line x1="1496.0" y1="1973.9" x2="2023.4" y2="1973.9" stroke="#dcdcdc" stroke-width="1.6"/>
<line x1="1496.0" y1="1973.9" x2="1496.0" y2="3073.7" stroke="#262626" stroke-width="2"/>
<line x1="1495.0" y1="3072.7" x2="2024.4" y2="3072.7" stroke="#262626" stroke-width="2"/>
<line x1="1496.0" y1="3072.7" x2="1506.5" y2="3072.7" stroke="#262626" stroke-width="2"/>
<line x1="1496.0" y1="2852.9" x2="1506.5" y2="2852.9" stroke="#262626" stroke-width="2"/>
<line x1="1496.0" y1="2633.2" x2="1506.5" y2="2633.2" stroke="#262626" stroke-width="2"/>
<line x1="1496.0" y1="2413.4" x2="1506.5" y2="2413.4" stroke="#262626" stroke-width="2"/>
<line x1="1496.0" y1="2193.7" x2="1506.5" y2="2193.7" stroke="#262626" stroke-width="2"/>
<line x1="1496.0" y1="1973.9" x2="1506.5" y2="1973.9" stroke="#262626" stroke-width="2"/>
<line x1="1671.8" y1="3072.7" x2="1671.8" y2="3062.2" stroke="#262626" stroke-width="2"/>
<line x1="1847.6" y1="3072.7" x2="1847.6" y2="3062.2" stroke="#262626" stroke-width="2"/>
<line x1="2023.4" y1="3072.7" x2="2023.4" y2="3062.2" stroke="#262626" stroke-width="2"/>
<text x="1476.0" y="3095.7" font-size="58.5" text-anchor="end" fill="#262626" font-family="'Liberation Sans', Arial, Helvetica, sans-serif" >0</text>
<text x="1476.0" y="2875.9" font-size="58.5" text-anchor="end" fill="#262626" font-family="'Liberation Sans', Arial, Helvetica, sans-serif" >0.2</text>
<text x="1476.0" y="2656.2" font-size="58.5" text-anchor="end" fill="#262626" font-family="'Liberation Sans', Arial, Helvetica, sans-serif" >0.4</text>
<text x="1476.0" y="2436.4" font-size="58.5" text-anchor="end" fill="#262626" font-family="'Liberation Sans', Arial, Helvetica, sans-serif" >0.6</text>
<text x="1476.0" y="2216.7" font-size="58.5" text-anchor="end" fill="#262626" font-family="'Liberation Sans', Arial, Helvetica, sans-serif" >0.8</text>
<text x="1476.0" y="1996.9" font-size="58.5" text-anchor="end" fill="#262626" font-family="'Liberation Sans', Arial, Helvetica, sans-serif" >1</text>
<text x="1496.0" y="3154.7" font-size="58.5" text-anchor="middle" fill="#262626" font-family="'Liberation Sans', Arial, Helvetica, sans-serif" >0</text>
<text x="1671.8" y="3154.7" font-size="58.5" text-anchor="middle" fill="#262626" font-family="'Liberation Sans', Arial, Helvetica, sans-serif" >10</text>
<text x="1847.6" y="3154.7" font-size="58.5" text-anchor="middle" fill="#262626" font-family="'Liberation Sans', Arial, Helvetica, sans-serif" >20</text>
<text x="2023.4" y="3154.7" font-size="58.5" text-anchor="middle" fill="#262626" font-family="'Liberation Sans', Arial, Helvetica, sans-serif" >30</text>
<text x="1804.0" y="3222.7" font-size="64.4" text-anchor="middle" fill="#262626" font-family="'Liberation Sans', Arial, Helvetica, sans-serif" >Z_axis (m)</text>
<path d="M1496.0,3072.7 L1496.0,3066.6 L1498.6,3066.6 L1498.6,3060.4 L1501.3,3060.4 L1501.3,3054.3 L1503.0,3054.3 L1503.0,3048.1 L1503.0,3048.1 L1503.0,3042.0 L1506.5,3042.0 L1506.5,3035.9 L1506.5,3035.9 L1506.5,3029.7 L1510.9,3029.7 L1510.9,3023.6 L1510.9,3023.6 L1510.9,3017.5 L1510.9,3017.5 L1510.9,3011.3 L1510.9,3011.3 L1510.9,3005.2 L1510.9,3005.2 L1510.9,2999.0 L1517.1,2999.0 L1517.1,2992.9 L1518.9,2992.9 L1518.9,2986.8 L1518.9,2986.8 L1518.9,2980.6 L1518.9,2980.6 L1518.9,2974.5 L1518.9,2974.5 L1518.9,2968.3 L1518.9,2968.3 L1518.9,2962.2 L1518.9,2962.2 L1518.9,2956.1 L1521.5,2956.1 L1521.5,2949.9 L1521.5,2949.9 L1521.5,2943.8 L1521.5,2943.8 L1521.5,2937.7 L1521.5,2937.7 L1521.5,2931.5 L1522.4,2931.5 L1522.4,2925.4 L1525.9,2925.4 L1525.9,2919.2 L1525.9,2919.2 L1525.9,2913.1 L1525.9,2913.1 L1525.9,2907.0 L1525.9,2907.0 L1525.9,2900.8 L1525.9,2900.8 L1525.9,2894.7 L1527.6,2894.7 L1527.6,2888.5 L1529.4,2888.5 L1529.4,2882.4 L1529.4,2882.4 L1529.4,2876.3 L1529.4,2876.3 L1529.4,2870.1 L1531.2,2870.1 L1531.2,2864.0 L1531.2,2864.0 L1531.2,2857.9 L1531.2,2857.9 L1531.2,2851.7 L1533.8,2851.7 L1533.8,2845.6 L1533.8,2845.6 L1533.8,2839.4 L1533.8,2839.4 L1533.8,2833.3 L1533.8,2833.3 L1533.8,2827.2 L1533.8,2827.2 L1533.8,2821.0 L1533.8,2821.0 L1533.8,2814.9 L1533.8,2814.9 L1533.8,2808.7 L1533.8,2808.7 L1533.8,2802.6 L1537.3,2802.6 L1537.3,2796.5 L1540.0,2796.5 L1540.0,2790.3 L1541.7,2790.3 L1541.7,2784.2 L1541.7,2784.2 L1541.7,2778.0 L1541.7,2778.0 L1541.7,2771.9 L1543.5,2771.9 L1543.5,2765.8 L1548.7,2765.8 L1548.7,2759.6 L1548.7,2759.6 L1548.7,2753.5 L1548.7,2753.5 L1548.7,2747.4 L1548.7,2747.4 L1548.7,2741.2 L1548.7,2741.2 L1548.7,2735.1 L1548.7,2735.1 L1548.7,2728.9 L1550.5,2728.9 L1550.5,2722.8 L1552.3,2722.8 L1552.3,2716.7 L1555.8,2716.7 L1555.8,2710.5 L1555.8,2710.5 L1555.8,2704.4 L1555.8,2704.4 L1555.8,2698.2 L1555.8,2698.2 L1555.8,2692.1 L1555.8,2692.1 L1555.8,2686.0 L1557.5,2686.0 L1557.5,2679.8 L1557.5,2679.8 L1557.5,2673.7 L1557.5,2673.7 L1557.5,2667.6 L1557.5,2667.6 L1557.5,2661.4 L1563.7,2661.4 L1563.7,2655.3 L1564.6,2655.3 L1564.6,2649.1 L1564.6,2649.1 L1564.6,2643.0 L1564.6,2643.0 L1564.6,2636.9 L1564.6,2636.9 L1564.6,2630.7 L1564.6,2630.7 L1564.6,2624.6 L1564.6,2624.6 L1564.6,2618.4 L1566.3,2618.4 L1566.3,2612.3 L1566.3,2612.3 L1566.3,2606.2 L1566.3,2606.2 L1566.3,2600.0 L1568.1,2600.0 L1568.1,2593.9 L1568.1,2593.9 L1568.1,2587.8 L1569.8,2587.8 L1569.8,2581.6 L1569.8,2581.6 L1569.8,2575.5 L1571.6,2575.5 L1571.6,2569.3 L1571.6,2569.3 L1571.6,2563.2 L1571.6,2563.2 L1571.6,2557.1 L1572.5,2557.1 L1572.5,2550.9 L1573.4,2550.9 L1573.4,2544.8 L1574.2,2544.8 L1574.2,2538.6 L1575.1,2538.6 L1575.1,2532.5 L1576.0,2532.5 L1576.0,2526.4 L1580.4,2526.4 L1580.4,2520.2 L1580.4,2520.2 L1580.4,2514.1 L1580.4,2514.1 L1580.4,2508.0 L1580.4,2508.0 L1580.4,2501.8 L1582.1,2501.8 L1582.1,2495.7 L1582.1,2495.7 L1582.1,2489.5 L1583.9,2489.5 L1583.9,2483.4 L1586.5,2483.4 L1586.5,2477.3 L1587.4,2477.3 L1587.4,2471.1 L1587.4,2471.1 L1587.4,2465.0 L1589.2,2465.0 L1589.2,2458.8 L1592.7,2458.8 L1592.7,2452.7 L1592.7,2452.7 L1592.7,2446.6 L1592.7,2446.6 L1592.7,2440.4 L1594.4,2440.4 L1594.4,2434.3 L1594.4,2434.3 L1594.4,2428.2 L1596.2,2428.2 L1596.2,2422.0 L1596.2,2422.0 L1596.2,2415.9 L1596.2,2415.9 L1596.2,2409.7 L1596.2,2409.7 L1596.2,2403.6 L1596.2,2403.6 L1596.2,2397.5 L1596.2,2397.5 L1596.2,2391.3 L1596.2,2391.3 L1596.2,2385.2 L1597.1,2385.2 L1597.1,2379.0 L1598.8,2379.0 L1598.8,2372.9 L1598.8,2372.9 L1598.8,2366.8 L1600.6,2366.8 L1600.6,2360.6 L1601.5,2360.6 L1601.5,2354.5 L1601.5,2354.5 L1601.5,2348.4 L1601.5,2348.4 L1601.5,2342.2 L1601.5,2342.2 L1601.5,2336.1 L1603.2,2336.1 L1603.2,2329.9 L1605.0,2329.9 L1605.0,2323.8 L1608.5,2323.8 L1608.5,2317.7 L1608.5,2317.7 L1608.5,2311.5 L1611.1,2311.5 L1611.1,2305.4 L1612.0,2305.4 L1612.0,2299.2 L1612.9,2299.2 L1612.9,2293.1 L1614.7,2293.1 L1614.7,2287.0 L1614.7,2287.0 L1614.7,2280.8 L1615.5,2280.8 L1615.5,2274.7 L1615.5,2274.7 L1615.5,2268.6 L1615.5,2268.6 L1615.5,2262.4 L1619.1,2262.4 L1619.1,2256.3 L1622.6,2256.3 L1622.6,2250.1 L1622.6,2250.1 L1622.6,2244.0 L1622.6,2244.0 L1622.6,2237.9 L1625.2,2237.9 L1625.2,2231.7 L1629.6,2231.7 L1629.6,2225.6 L1629.6,2225.6 L1629.6,2219.4 L1631.4,2219.4 L1631.4,2213.3 L1631.4,2213.3 L1631.4,2207.2 L1631.4,2207.2 L1631.4,2201.0 L1632.2,2201.0 L1632.2,2194.9 L1634.9,2194.9 L1634.9,2188.7 L1634.9,2188.7 L1634.9,2182.6 L1634.9,2182.6 L1634.9,2176.5 L1635.8,2176.5 L1635.8,2170.3 L1637.5,2170.3 L1637.5,2164.2 L1638.4,2164.2 L1638.4,2158.1 L1639.3,2158.1 L1639.3,2151.9 L1641.9,2151.9 L1641.9,2145.8 L1641.9,2145.8 L1641.9,2139.6 L1645.4,2139.6 L1645.4,2133.5 L1649.8,2133.5 L1649.8,2127.4 L1653.3,2127.4 L1653.3,2121.2 L1654.2,2121.2 L1654.2,2115.1 L1654.2,2115.1 L1654.2,2108.9 L1657.7,2108.9 L1657.7,2102.8 L1657.7,2102.8 L1657.7,2096.7 L1666.5,2096.7 L1666.5,2090.5 L1668.3,2090.5 L1668.3,2084.4 L1671.8,2084.4 L1671.8,2078.3 L1673.6,2078.3 L1673.6,2072.1 L1673.6,2072.1 L1673.6,2066.0 L1676.2,2066.0 L1676.2,2059.8 L1678.8,2059.8 L1678.8,2053.7 L1681.5,2053.7 L1681.5,2047.6 L1694.7,2047.6 L1694.7,2041.4 L1696.4,2041.4 L1696.4,2035.3 L1699.9,2035.3 L1699.9,2029.1 L1709.6,2029.1 L1709.6,2023.0 L1726.3,2023.0 L1726.3,2016.9 L1727.2,2016.9 L1727.2,2010.7 L1731.6,2010.7 L1731.6,2004.6 L1738.6,2004.6 L1738.6,1998.5 L1743.9,1998.5 L1743.9,1992.3 L1743.9,1992.3 L1743.9,1986.2 L1820.4,1986.2 L1820.4,1980.0 L1831.8,1980.0 L1831.8,1973.9" fill="none" stroke="#0072bd" stroke-width="10" stroke-linejoin="round"/>
<path d="M1496.9,3072.7 L1496.9,3066.6 L1498.6,3066.6 L1498.6,3060.4 L1498.6,3060.4 L1498.6,3054.3 L1498.6,3054.3 L1498.6,3048.1 L1498.6,3048.1 L1498.6,3042.0 L1498.6,3042.0 L1498.6,3035.9 L1498.6,3035.9 L1498.6,3029.7 L1499.5,3029.7 L1499.5,3023.6 L1499.5,3023.6 L1499.5,3017.5 L1499.5,3017.5 L1499.5,3011.3 L1499.5,3011.3 L1499.5,3005.2 L1499.5,3005.2 L1499.5,2999.0 L1499.5,2999.0 L1499.5,2992.9 L1499.5,2992.9 L1499.5,2986.8 L1501.3,2986.8 L1501.3,2980.6 L1501.3,2980.6 L1501.3,2974.5 L1501.3,2974.5 L1501.3,2968.3 L1503.0,2968.3 L1503.0,2962.2 L1503.0,2962.2 L1503.0,2956.1 L1503.0,2956.1 L1503.0,2949.9 L1503.0,2949.9 L1503.0,2943.8 L1503.0,2943.8 L1503.0,2937.7 L1503.0,2937.7 L1503.0,2931.5 L1503.0,2931.5 L1503.0,2925.4 L1503.0,2925.4 L1503.0,2919.2 L1504.8,2919.2 L1504.8,2913.1 L1506.5,2913.1 L1506.5,2907.0 L1507.4,2907.0 L1507.4,2900.8 L1507.4,2900.8 L1507.4,2894.7 L1507.4,2894.7 L1507.4,2888.5 L1507.4,2888.5 L1507.4,2882.4 L1507.4,2882.4 L1507.4,2876.3 L1507.4,2876.3 L1507.4,2870.1 L1509.2,2870.1 L1509.2,2864.0 L1509.2,2864.0 L1509.2,2857.9 L1509.2,2857.9 L1509.2,2851.7 L1509.2,2851.7 L1509.2,2845.6 L1510.9,2845.6 L1510.9,2839.4 L1511.8,2839.4 L1511.8,2833.3 L1513.6,2833.3 L1513.6,2827.2 L1515.3,2827.2 L1515.3,2821.0 L1517.1,2821.0 L1517.1,2814.9 L1518.9,2814.9 L1518.9,2808.7 L1518.9,2808.7 L1518.9,2802.6 L1518.9,2802.6 L1518.9,2796.5 L1518.9,2796.5 L1518.9,2790.3 L1518.9,2790.3 L1518.9,2784.2 L1518.9,2784.2 L1518.9,2778.0 L1518.9,2778.0 L1518.9,2771.9 L1518.9,2771.9 L1518.9,2765.8 L1521.5,2765.8 L1521.5,2759.6 L1521.5,2759.6 L1521.5,2753.5 L1521.5,2753.5 L1521.5,2747.4 L1521.5,2747.4 L1521.5,2741.2 L1523.2,2741.2 L1523.2,2735.1 L1524.1,2735.1 L1524.1,2728.9 L1524.1,2728.9 L1524.1,2722.8 L1525.9,2722.8 L1525.9,2716.7 L1525.9,2716.7 L1525.9,2710.5 L1525.9,2710.5 L1525.9,2704.4 L1527.6,2704.4 L1527.6,2698.2 L1527.6,2698.2 L1527.6,2692.1 L1527.6,2692.1 L1527.6,2686.0 L1527.6,2686.0 L1527.6,2679.8 L1529.4,2679.8 L1529.4,2673.7 L1529.4,2673.7 L1529.4,2667.6 L1529.4,2667.6 L1529.4,2661.4 L1529.4,2661.4 L1529.4,2655.3 L1529.4,2655.3 L1529.4,2649.1 L1530.3,2649.1 L1530.3,2643.0 L1531.2,2643.0 L1531.2,2636.9 L1531.2,2636.9 L1531.2,2630.7 L1531.2,2630.7 L1531.2,2624.6 L1531.2,2624.6 L1531.2,2618.4 L1531.2,2618.4 L1531.2,2612.3 L1532.0,2612.3 L1532.0,2606.2 L1532.0,2606.2 L1532.0,2600.0 L1533.8,2600.0 L1533.8,2593.9 L1533.8,2593.9 L1533.8,2587.8 L1533.8,2587.8 L1533.8,2581.6 L1533.8,2581.6 L1533.8,2575.5 L1533.8,2575.5 L1533.8,2569.3 L1533.8,2569.3 L1533.8,2563.2 L1533.8,2563.2 L1533.8,2557.1 L1535.6,2557.1 L1535.6,2550.9 L1535.6,2550.9 L1535.6,2544.8 L1537.3,2544.8 L1537.3,2538.6 L1537.3,2538.6 L1537.3,2532.5 L1538.2,2532.5 L1538.2,2526.4 L1538.2,2526.4 L1538.2,2520.2 L1538.2,2520.2 L1538.2,2514.1 L1541.7,2514.1 L1541.7,2508.0 L1541.7,2508.0 L1541.7,2501.8 L1541.7,2501.8 L1541.7,2495.7 L1541.7,2495.7 L1541.7,2489.5 L1541.7,2489.5 L1541.7,2483.4 L1543.5,2483.4 L1543.5,2477.3 L1545.2,2477.3 L1545.2,2471.1 L1546.1,2471.1 L1546.1,2465.0 L1546.1,2465.0 L1546.1,2458.8 L1547.9,2458.8 L1547.9,2452.7 L1547.9,2452.7 L1547.9,2446.6 L1548.7,2446.6 L1548.7,2440.4 L1548.7,2440.4 L1548.7,2434.3 L1548.7,2434.3 L1548.7,2428.2 L1548.7,2428.2 L1548.7,2422.0 L1548.7,2422.0 L1548.7,2415.9 L1548.7,2415.9 L1548.7,2409.7 L1552.3,2409.7 L1552.3,2403.6 L1555.8,2403.6 L1555.8,2397.5 L1555.8,2397.5 L1555.8,2391.3 L1555.8,2391.3 L1555.8,2385.2 L1555.8,2385.2 L1555.8,2379.0 L1555.8,2379.0 L1555.8,2372.9 L1555.8,2372.9 L1555.8,2366.8 L1557.5,2366.8 L1557.5,2360.6 L1557.5,2360.6 L1557.5,2354.5 L1558.4,2354.5 L1558.4,2348.4 L1558.4,2348.4 L1558.4,2342.2 L1560.2,2342.2 L1560.2,2336.1 L1561.9,2336.1 L1561.9,2329.9 L1561.9,2329.9 L1561.9,2323.8 L1561.9,2323.8 L1561.9,2317.7 L1564.6,2317.7 L1564.6,2311.5 L1564.6,2311.5 L1564.6,2305.4 L1564.6,2305.4 L1564.6,2299.2 L1566.3,2299.2 L1566.3,2293.1 L1566.3,2293.1 L1566.3,2287.0 L1568.1,2287.0 L1568.1,2280.8 L1568.1,2280.8 L1568.1,2274.7 L1569.8,2274.7 L1569.8,2268.6 L1569.8,2268.6 L1569.8,2262.4 L1571.6,2262.4 L1571.6,2256.3 L1572.5,2256.3 L1572.5,2250.1 L1578.6,2250.1 L1578.6,2244.0 L1580.4,2244.0 L1580.4,2237.9 L1580.4,2237.9 L1580.4,2231.7 L1584.8,2231.7 L1584.8,2225.6 L1586.5,2225.6 L1586.5,2219.4 L1586.5,2219.4 L1586.5,2213.3 L1586.5,2213.3 L1586.5,2207.2 L1587.4,2207.2 L1587.4,2201.0 L1588.3,2201.0 L1588.3,2194.9 L1588.3,2194.9 L1588.3,2188.7 L1590.9,2188.7 L1590.9,2182.6 L1590.9,2182.6 L1590.9,2176.5 L1592.7,2176.5 L1592.7,2170.3 L1592.7,2170.3 L1592.7,2164.2 L1592.7,2164.2 L1592.7,2158.1 L1592.7,2158.1 L1592.7,2151.9 L1597.1,2151.9 L1597.1,2145.8 L1598.0,2145.8 L1598.0,2139.6 L1598.8,2139.6 L1598.8,2133.5 L1598.8,2133.5 L1598.8,2127.4 L1598.8,2127.4 L1598.8,2121.2 L1600.6,2121.2 L1600.6,2115.1 L1601.5,2115.1 L1601.5,2108.9 L1601.5,2108.9 L1601.5,2102.8 L1605.0,2102.8 L1605.0,2096.7 L1605.0,2096.7 L1605.0,2090.5 L1605.0,2090.5 L1605.0,2084.4 L1606.8,2084.4 L1606.8,2078.3 L1606.8,2078.3 L1606.8,2072.1 L1608.5,2072.1 L1608.5,2066.0 L1608.5,2066.0 L1608.5,2059.8 L1612.9,2059.8 L1612.9,2053.7 L1614.7,2053.7 L1614.7,2047.6 L1617.3,2047.6 L1617.3,2041.4 L1621.7,2041.4 L1621.7,2035.3 L1621.7,2035.3 L1621.7,2029.1 L1621.7,2029.1 L1621.7,2023.0 L1622.6,2023.0 L1622.6,2016.9 L1629.6,2016.9 L1629.6,2010.7 L1633.1,2010.7 L1633.1,2004.6 L1637.5,2004.6 L1637.5,1998.5 L1648.1,1998.5 L1648.1,1992.3 L1657.7,1992.3 L1657.7,1986.2 L1665.6,1986.2 L1665.6,1980.0 L1673.6,1980.0 L1673.6,1973.9" fill="none" stroke="#d95319" stroke-width="10" stroke-linejoin="round"/>
<text x="1137.0" y="1947.7" font-size="64.2" text-anchor="middle" fill="#000000" font-family="'Liberation Sans', Arial, Helvetica, sans-serif" >position errors distribution</text>
<text transform="translate(87.7,2532) rotate(-90)" x="0" y="0" font-size="65" text-anchor="middle" fill="#262626" font-family="'Liberation Sans', Arial, Helvetica, sans-serif">Probability</text>
<line x1="302" y1="2895.4" x2="400.7" y2="2895.4" stroke="#0072bd" stroke-width="10"/>
<line x1="302" y1="2961.4" x2="400.7" y2="2961.4" stroke="#d95319" stroke-width="10"/>
<text x="411.4" y="2916.0" font-size="53" text-anchor="start" fill="#000000" font-family="'Liberation Sans', Arial, Helvetica, sans-serif" >UAV01</text>
<text x="411.4" y="2983.6" font-size="53" text-anchor="start" fill="#000000" font-family="'Liberation Sans', Arial, Helvetica, sans-serif" >UAV01-CoVDLL</text>
<text x="141" y="3366.5" font-size="84" fill="#000" font-family="'Liberation Serif', 'Times New Roman', serif" textLength="98" lengthAdjust="spacingAndGlyphs">(<tspan font-weight="bold">b</tspan>)</text>
<text x="268" y="3366.5" font-size="84" fill="#000" font-family="'Liberation Serif', 'Times New Roman', serif" textLength="1722" lengthAdjust="spacingAndGlyphs">three-axis position errors distribution (UAV01)</text>
</svg></body></html>
